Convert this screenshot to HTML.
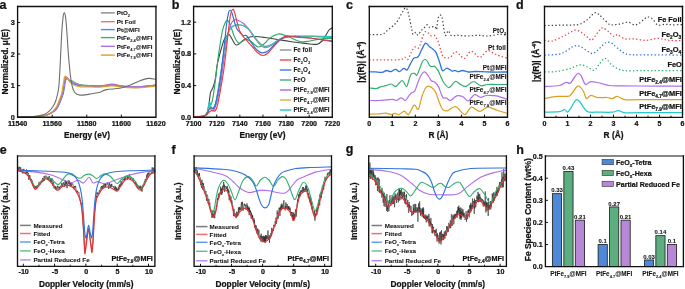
<!DOCTYPE html><html><head><meta charset="utf-8"><style>html,body{margin:0;padding:0;background:#fff;overflow:hidden}svg{display:block;will-change:transform}text{font-family:"Liberation Sans",sans-serif;font-weight:bold;stroke:#111;stroke-width:0.22px;paint-order:stroke}text.sm{stroke-width:0.06px}</style></head><body><svg width="685" height="289" viewBox="0 0 685 289" font-family="Liberation Sans, sans-serif" font-weight="bold">
<rect width="685" height="289" fill="#fff"/>
<text x="-0.40" y="9.30" font-size="12.5" text-anchor="start" fill="#111">a</text>
<text x="171.80" y="9.00" font-size="12.5" text-anchor="start" fill="#111">b</text>
<text x="345.90" y="9.30" font-size="12.5" text-anchor="start" fill="#111">c</text>
<text x="516.00" y="9.00" font-size="12.5" text-anchor="start" fill="#111">d</text>
<text x="-0.30" y="153.60" font-size="12.5" text-anchor="start" fill="#111">e</text>
<text x="171.40" y="153.60" font-size="12.5" text-anchor="start" fill="#111">f</text>
<text x="345.80" y="152.90" font-size="12.5" text-anchor="start" fill="#111">g</text>
<text x="516.20" y="153.60" font-size="12.5" text-anchor="start" fill="#111">h</text>
<polyline points="17.60,116.90 18.10,116.89 18.60,116.88 19.10,116.88 19.60,116.87 20.10,116.87 20.60,116.86 21.10,116.85 21.60,116.85 22.10,116.84 22.60,116.84 23.10,116.83 23.60,116.83 24.10,116.82 24.60,116.82 25.10,116.81 25.60,116.80 26.10,116.80 26.60,116.79 27.10,116.78 27.60,116.78 28.10,116.77 28.60,116.76 29.10,116.75 29.60,116.75 30.10,116.74 30.60,116.73 31.10,116.72 31.60,116.71 32.10,116.70 32.60,116.69 33.10,116.68 33.60,116.66 34.10,116.65 34.60,116.64 35.10,116.62 35.60,116.61 36.10,116.59 36.60,116.57 37.10,116.55 37.60,116.52 38.09,116.49 38.59,116.46 39.09,116.43 39.59,116.39 40.09,116.35 40.59,116.30 41.08,116.25 41.58,116.19 42.08,116.12 42.57,116.05 43.06,115.96 43.55,115.86 44.04,115.74 44.52,115.62 45.00,115.49 45.49,115.35 45.96,115.21 46.44,115.06 46.91,114.89 47.38,114.71 47.84,114.52 48.30,114.32 48.75,114.10 49.19,113.87 49.63,113.63 50.07,113.38 50.50,113.13 50.93,112.88 51.36,112.62 51.79,112.37 52.21,112.11 52.63,111.84 53.05,111.55 53.45,111.25 53.83,110.94 54.20,110.60 54.56,110.25 54.89,109.88 55.22,109.50 55.53,109.11 55.83,108.71 56.12,108.30 56.40,107.89 56.67,107.47 56.93,107.04 57.18,106.61 57.43,106.18 57.67,105.74 57.90,105.29 58.12,104.85 58.33,104.39 58.54,103.94 58.74,103.48 58.93,103.02 59.12,102.55 59.30,102.09 59.49,101.62 59.67,101.16 59.84,100.69 60.02,100.22 60.20,99.76 60.38,99.29 60.56,98.82 60.75,98.36 60.93,97.89 61.11,97.43 61.29,96.96 61.46,96.49 61.64,96.02 61.80,95.55 61.96,95.08 62.12,94.60 62.26,94.12 62.40,93.64 62.53,93.16 62.65,92.67 62.76,92.19 62.86,91.70 62.95,91.21 63.04,90.71 63.12,90.22 63.20,89.73 63.28,89.23 63.35,88.74 63.43,88.24 63.50,87.75 63.58,87.26 63.66,86.76 63.74,86.27 63.82,85.78 63.91,85.28 63.99,84.79 64.07,84.30 64.15,83.80 64.23,83.31 64.31,82.82 64.39,82.32 64.47,81.83 64.55,81.33 64.62,80.84 64.69,80.35 64.76,79.85 64.82,79.35 64.90,78.86 65.01,78.37 65.17,77.90 65.39,77.47 65.72,77.15 66.11,77.03 66.52,77.11 66.92,77.38 67.26,77.74 67.57,78.13 67.86,78.54 68.15,78.95 68.44,79.35 68.76,79.73 69.12,80.08 69.50,80.41 69.89,80.71 70.29,81.01 70.70,81.30 71.11,81.58 71.52,81.87 71.92,82.16 72.33,82.46 72.74,82.74 73.16,83.02 73.58,83.28 74.02,83.53 74.46,83.75 74.92,83.96 75.38,84.14 75.85,84.31 76.33,84.47 76.80,84.62 77.28,84.76 77.77,84.89 78.25,85.00 78.74,85.11 79.23,85.21 79.72,85.30 80.22,85.38 80.71,85.45 81.21,85.51 81.71,85.56 82.20,85.60 82.70,85.64 83.20,85.67 83.70,85.69 84.20,85.71 84.70,85.72 85.20,85.73 85.70,85.74 86.20,85.75 86.70,85.76 87.20,85.76 87.70,85.77 88.20,85.77 88.70,85.78 89.20,85.79 89.70,85.80 90.20,85.81 90.70,85.82 91.20,85.83 91.70,85.84 92.20,85.85 92.70,85.87 93.20,85.88 93.70,85.89 94.20,85.90 94.70,85.91 95.20,85.92 95.70,85.93 96.20,85.94 96.70,85.95 97.20,85.95 97.70,85.95 98.20,85.95 98.70,85.94 99.20,85.93 99.70,85.91 100.20,85.88 100.69,85.85 101.19,85.80 101.69,85.75 102.18,85.68 102.68,85.60 103.17,85.51 103.66,85.42 104.15,85.32 104.64,85.23 105.13,85.14 105.63,85.06 106.12,84.98 106.62,84.90 107.11,84.81 107.60,84.72 108.09,84.62 108.58,84.52 109.07,84.43 109.56,84.34 110.06,84.26 110.55,84.20 111.05,84.15 111.55,84.11 112.05,84.09 112.55,84.09 113.05,84.11 113.54,84.15 114.04,84.21 114.53,84.29 115.02,84.38 115.51,84.49 116.00,84.60 116.48,84.73 116.97,84.85 117.45,84.98 117.93,85.11 118.42,85.23 118.90,85.35 119.39,85.47 119.88,85.58 120.37,85.68 120.86,85.77 121.35,85.86 121.84,85.93 122.34,86.00 122.84,86.06 123.33,86.11 123.83,86.17 124.33,86.21 124.83,86.26 125.32,86.30 125.82,86.35 126.32,86.38 126.82,86.42 127.32,86.46 127.82,86.49 128.32,86.52 128.82,86.56 129.31,86.58 129.81,86.61 130.31,86.64 130.81,86.66 131.31,86.68 131.81,86.70 132.31,86.72 132.81,86.74 133.31,86.76 133.81,86.77 134.31,86.78 134.81,86.79 135.31,86.80 135.81,86.80 136.31,86.80 136.81,86.79 137.31,86.79 137.81,86.77 138.31,86.76 138.81,86.74 139.31,86.71 139.81,86.69 140.31,86.66 140.81,86.62 141.30,86.59 141.80,86.55 142.30,86.51 142.80,86.47 143.30,86.43 143.80,86.39 144.29,86.34 144.79,86.30 145.29,86.26 145.79,86.22 146.29,86.18 146.79,86.13 147.28,86.09 147.78,86.04 148.28,85.99 148.78,85.94 149.27,85.89 149.77,85.84 150.27,85.79 150.77,85.73 151.26,85.68 151.76,85.62 152.26,85.57 152.75,85.51 153.25,85.45 153.75,85.40 154.24,85.34 154.74,85.28 155.24,85.23" fill="none" stroke="#f06060" stroke-width="1.15" stroke-linejoin="round" stroke-linecap="round"/>
<polyline points="17.60,116.90 18.10,116.89 18.60,116.88 19.10,116.88 19.60,116.87 20.10,116.87 20.60,116.86 21.10,116.85 21.60,116.85 22.10,116.84 22.60,116.84 23.10,116.83 23.60,116.83 24.10,116.82 24.60,116.82 25.10,116.81 25.60,116.80 26.10,116.80 26.60,116.79 27.10,116.78 27.60,116.78 28.10,116.77 28.60,116.76 29.10,116.75 29.60,116.75 30.10,116.74 30.60,116.73 31.10,116.72 31.60,116.71 32.10,116.70 32.60,116.69 33.10,116.68 33.60,116.66 34.10,116.65 34.60,116.64 35.10,116.62 35.60,116.61 36.10,116.59 36.60,116.57 37.10,116.55 37.60,116.52 38.09,116.49 38.59,116.46 39.09,116.43 39.59,116.39 40.09,116.35 40.59,116.30 41.08,116.25 41.58,116.19 42.08,116.12 42.57,116.04 43.06,115.96 43.55,115.85 44.04,115.74 44.52,115.62 45.00,115.48 45.49,115.35 45.96,115.21 46.44,115.06 46.92,114.90 47.38,114.72 47.85,114.53 48.30,114.33 48.76,114.12 49.20,113.90 49.65,113.67 50.09,113.43 50.52,113.19 50.96,112.94 51.39,112.69 51.83,112.44 52.26,112.19 52.69,111.93 53.11,111.66 53.52,111.38 53.92,111.08 54.30,110.76 54.67,110.42 55.02,110.07 55.36,109.70 55.68,109.31 55.98,108.92 56.28,108.52 56.56,108.11 56.84,107.69 57.10,107.26 57.36,106.83 57.61,106.40 57.85,105.96 58.08,105.52 58.31,105.08 58.53,104.63 58.74,104.17 58.94,103.71 59.13,103.25 59.32,102.79 59.51,102.33 59.69,101.86 59.87,101.40 60.05,100.93 60.23,100.46 60.41,100.00 60.59,99.53 60.77,99.06 60.95,98.60 61.13,98.13 61.32,97.67 61.50,97.20 61.67,96.73 61.85,96.26 62.02,95.79 62.18,95.32 62.34,94.85 62.49,94.37 62.63,93.89 62.77,93.41 62.89,92.92 63.00,92.44 63.11,91.95 63.20,91.46 63.29,90.97 63.38,90.47 63.46,89.98 63.54,89.49 63.61,88.99 63.69,88.50 63.76,88.00 63.84,87.51 63.92,87.01 64.00,86.52 64.08,86.03 64.16,85.53 64.24,85.04 64.32,84.55 64.40,84.05 64.47,83.56 64.55,83.07 64.63,82.57 64.71,82.08 64.80,81.59 64.89,81.09 64.99,80.60 65.10,80.12 65.23,79.63 65.38,79.16 65.55,78.69 65.76,78.24 66.02,77.83 66.37,77.58 66.77,77.54 67.18,77.71 67.56,78.02 67.89,78.39 68.18,78.80 68.45,79.22 68.72,79.63 69.05,80.00 69.44,80.27 69.89,80.42 70.38,80.49 70.87,80.53 71.36,80.62 71.81,80.79 72.25,81.03 72.67,81.30 73.09,81.57 73.52,81.81 73.96,82.05 74.41,82.28 74.85,82.51 75.30,82.73 75.75,82.95 76.21,83.16 76.66,83.36 77.12,83.55 77.59,83.75 78.05,83.94 78.51,84.12 78.98,84.29 79.46,84.44 79.94,84.56 80.43,84.67 80.92,84.76 81.41,84.84 81.91,84.91 82.41,84.97 82.90,85.03 83.40,85.08 83.90,85.13 84.40,85.18 84.89,85.22 85.39,85.26 85.89,85.30 86.39,85.34 86.89,85.37 87.39,85.41 87.88,85.45 88.38,85.48 88.88,85.52 89.38,85.55 89.88,85.59 90.38,85.63 90.88,85.67 91.38,85.70 91.87,85.74 92.37,85.78 92.87,85.82 93.37,85.86 93.87,85.89 94.37,85.93 94.87,85.97 95.36,86.00 95.86,86.03 96.36,86.06 96.86,86.09 97.36,86.12 97.86,86.14 98.36,86.16 98.86,86.18 99.36,86.19 99.86,86.20 100.36,86.19 100.86,86.18 101.36,86.16 101.86,86.12 102.35,86.07 102.85,86.01 103.35,85.95 103.84,85.88 104.34,85.81 104.83,85.74 105.33,85.68 105.82,85.62 106.32,85.57 106.82,85.51 107.31,85.45 107.81,85.38 108.31,85.32 108.80,85.25 109.30,85.19 109.79,85.13 110.29,85.09 110.79,85.05 111.29,85.02 111.79,85.00 112.29,84.99 112.79,85.00 113.29,85.02 113.79,85.05 114.28,85.10 114.78,85.16 115.28,85.23 115.77,85.30 116.26,85.38 116.76,85.47 117.25,85.56 117.74,85.64 118.23,85.73 118.72,85.82 119.22,85.90 119.71,85.98 120.21,86.05 120.70,86.12 121.20,86.18 121.69,86.24 122.19,86.29 122.69,86.33 123.19,86.38 123.69,86.42 124.18,86.46 124.68,86.50 125.18,86.53 125.68,86.57 126.18,86.61 126.68,86.64 127.18,86.67 127.68,86.71 128.17,86.74 128.67,86.77 129.17,86.79 129.67,86.82 130.17,86.85 130.67,86.87 131.17,86.89 131.67,86.91 132.17,86.93 132.67,86.95 133.17,86.96 133.67,86.98 134.17,86.99 134.67,86.99 135.17,87.00 135.67,87.00 136.17,86.99 136.67,86.99 137.17,86.97 137.67,86.96 138.17,86.94 138.67,86.91 139.17,86.89 139.67,86.86 140.16,86.82 140.66,86.79 141.16,86.75 141.66,86.70 142.16,86.66 142.66,86.62 143.15,86.57 143.65,86.52 144.15,86.47 144.65,86.43 145.14,86.38 145.64,86.33 146.14,86.29 146.64,86.24 147.14,86.19 147.63,86.14 148.13,86.09 148.63,86.03 149.12,85.98 149.62,85.92 150.12,85.86 150.61,85.80 151.11,85.74 151.61,85.68 152.10,85.62 152.60,85.56 153.10,85.50 153.59,85.44 154.09,85.37 154.58,85.31 155.08,85.25" fill="none" stroke="#40b070" stroke-width="1.15" stroke-linejoin="round" stroke-linecap="round"/>
<polyline points="17.60,116.90 18.10,116.89 18.60,116.88 19.10,116.88 19.60,116.87 20.10,116.87 20.60,116.86 21.10,116.85 21.60,116.85 22.10,116.84 22.60,116.84 23.10,116.83 23.60,116.83 24.10,116.82 24.60,116.82 25.10,116.81 25.60,116.80 26.10,116.80 26.60,116.79 27.10,116.78 27.60,116.78 28.10,116.77 28.60,116.76 29.10,116.75 29.60,116.75 30.10,116.74 30.60,116.73 31.10,116.72 31.60,116.71 32.10,116.70 32.60,116.69 33.10,116.68 33.60,116.66 34.10,116.65 34.60,116.64 35.10,116.62 35.60,116.61 36.10,116.59 36.60,116.57 37.10,116.55 37.60,116.52 38.09,116.49 38.59,116.46 39.09,116.43 39.59,116.39 40.09,116.35 40.59,116.30 41.08,116.25 41.58,116.19 42.08,116.12 42.57,116.04 43.06,115.95 43.55,115.85 44.04,115.74 44.52,115.61 45.00,115.48 45.49,115.35 45.97,115.21 46.44,115.06 46.92,114.90 47.39,114.74 47.85,114.55 48.32,114.36 48.77,114.16 49.23,113.95 49.67,113.73 50.12,113.50 50.56,113.27 51.00,113.03 51.44,112.79 51.88,112.56 52.32,112.32 52.76,112.07 53.19,111.83 53.62,111.57 54.04,111.30 54.45,111.01 54.84,110.70 55.21,110.36 55.57,110.02 55.91,109.65 56.23,109.27 56.54,108.87 56.83,108.47 57.11,108.06 57.38,107.64 57.64,107.21 57.90,106.78 58.14,106.34 58.38,105.90 58.61,105.46 58.84,105.01 59.06,104.56 59.26,104.11 59.46,103.65 59.66,103.19 59.85,102.73 60.03,102.26 60.22,101.80 60.40,101.33 60.58,100.87 60.76,100.40 60.93,99.93 61.11,99.47 61.30,99.00 61.48,98.53 61.66,98.07 61.84,97.60 62.02,97.14 62.20,96.67 62.37,96.20 62.54,95.73 62.70,95.26 62.86,94.78 63.01,94.30 63.15,93.82 63.28,93.34 63.40,92.86 63.52,92.37 63.62,91.88 63.72,91.39 63.81,90.90 63.89,90.41 63.97,89.91 64.05,89.42 64.12,88.92 64.20,88.43 64.27,87.94 64.35,87.44 64.43,86.95 64.51,86.45 64.59,85.96 64.67,85.47 64.75,84.97 64.82,84.48 64.90,83.98 64.97,83.49 65.05,83.00 65.13,82.50 65.21,82.01 65.30,81.52 65.41,81.03 65.57,80.57 65.78,80.12 66.01,79.69 66.26,79.26 66.53,78.85 66.86,78.59 67.26,78.53 67.67,78.70 68.05,79.01 68.38,79.38 68.68,79.78 68.97,80.19 69.25,80.60 69.56,80.99 69.89,81.37 70.24,81.72 70.62,82.05 71.01,82.36 71.42,82.64 71.84,82.90 72.28,83.14 72.73,83.36 73.19,83.57 73.64,83.77 74.11,83.95 74.58,84.13 75.05,84.30 75.52,84.45 76.00,84.60 76.48,84.73 76.96,84.86 77.45,84.99 77.94,85.10 78.42,85.21 78.92,85.30 79.41,85.38 79.90,85.45 80.40,85.52 80.90,85.58 81.39,85.62 81.89,85.67 82.39,85.70 82.89,85.73 83.39,85.76 83.89,85.79 84.39,85.81 84.89,85.83 85.39,85.85 85.89,85.87 86.39,85.88 86.89,85.90 87.38,85.91 87.88,85.93 88.38,85.95 88.88,85.96 89.38,85.98 89.88,86.00 90.38,86.02 90.88,86.03 91.38,86.06 91.88,86.08 92.38,86.10 92.88,86.12 93.38,86.14 93.88,86.16 94.38,86.18 94.88,86.20 95.38,86.22 95.88,86.24 96.38,86.25 96.88,86.27 97.38,86.28 97.88,86.29 98.38,86.30 98.88,86.30 99.38,86.30 99.88,86.30 100.38,86.29 100.88,86.27 101.38,86.24 101.87,86.20 102.37,86.15 102.87,86.09 103.36,86.03 103.86,85.96 104.36,85.89 104.85,85.83 105.35,85.77 105.84,85.72 106.34,85.66 106.84,85.61 107.33,85.55 107.83,85.48 108.33,85.41 108.82,85.35 109.32,85.29 109.81,85.23 110.31,85.18 110.81,85.14 111.31,85.11 111.81,85.10 112.31,85.09 112.81,85.10 113.31,85.12 113.81,85.15 114.30,85.20 114.80,85.26 115.30,85.33 115.79,85.41 116.28,85.49 116.78,85.57 117.27,85.66 117.76,85.75 118.25,85.83 118.75,85.92 119.24,86.00 119.73,86.08 120.23,86.15 120.72,86.22 121.22,86.28 121.72,86.34 122.21,86.39 122.71,86.44 123.21,86.48 123.71,86.52 124.21,86.56 124.70,86.60 125.20,86.64 125.70,86.67 126.20,86.71 126.70,86.74 127.20,86.78 127.70,86.81 128.20,86.84 128.69,86.87 129.19,86.90 129.69,86.92 130.19,86.95 130.69,86.97 131.19,86.99 131.69,87.01 132.19,87.03 132.69,87.05 133.19,87.06 133.69,87.08 134.19,87.09 134.69,87.09 135.19,87.10 135.69,87.10 136.19,87.09 136.69,87.09 137.19,87.07 137.69,87.06 138.19,87.04 138.69,87.01 139.19,86.99 139.69,86.96 140.19,86.92 140.68,86.88 141.18,86.84 141.68,86.80 142.18,86.76 142.68,86.71 143.17,86.67 143.67,86.62 144.17,86.57 144.67,86.52 145.17,86.48 145.66,86.43 146.16,86.38 146.66,86.34 147.16,86.29 147.65,86.24 148.15,86.18 148.65,86.13 149.14,86.07 149.64,86.02 150.14,85.96 150.63,85.90 151.13,85.84 151.63,85.78 152.12,85.72 152.62,85.66 153.12,85.59 153.61,85.53 154.11,85.47 154.60,85.41 155.10,85.35" fill="none" stroke="#3d7fe0" stroke-width="1.15" stroke-linejoin="round" stroke-linecap="round"/>
<polyline points="17.60,116.90 18.10,116.89 18.60,116.88 19.10,116.88 19.60,116.87 20.10,116.87 20.60,116.86 21.10,116.85 21.60,116.85 22.10,116.84 22.60,116.84 23.10,116.83 23.60,116.83 24.10,116.82 24.60,116.82 25.10,116.81 25.60,116.80 26.10,116.80 26.60,116.79 27.10,116.78 27.60,116.78 28.10,116.77 28.60,116.76 29.10,116.75 29.60,116.75 30.10,116.74 30.60,116.73 31.10,116.72 31.60,116.71 32.10,116.70 32.60,116.69 33.10,116.68 33.60,116.66 34.10,116.65 34.60,116.64 35.10,116.62 35.60,116.61 36.10,116.59 36.60,116.57 37.10,116.55 37.60,116.52 38.09,116.49 38.59,116.46 39.09,116.43 39.59,116.39 40.09,116.35 40.59,116.30 41.08,116.25 41.58,116.19 42.08,116.12 42.57,116.04 43.06,115.95 43.55,115.85 44.04,115.74 44.52,115.62 45.00,115.48 45.49,115.35 45.97,115.21 46.44,115.06 46.92,114.90 47.39,114.73 47.85,114.54 48.31,114.34 48.76,114.14 49.21,113.92 49.66,113.69 50.10,113.46 50.54,113.22 50.98,112.98 51.41,112.73 51.85,112.49 52.28,112.24 52.72,111.99 53.14,111.73 53.56,111.46 53.97,111.17 54.36,110.86 54.74,110.54 55.10,110.19 55.44,109.83 55.77,109.45 56.08,109.06 56.38,108.66 56.67,108.25 56.95,107.83 57.22,107.41 57.47,106.98 57.72,106.55 57.97,106.11 58.20,105.67 58.43,105.23 58.65,104.78 58.86,104.33 59.07,103.87 59.27,103.41 59.46,102.95 59.65,102.49 59.83,102.02 60.01,101.56 60.19,101.09 60.37,100.62 60.55,100.16 60.73,99.69 60.91,99.22 61.09,98.76 61.27,98.29 61.45,97.83 61.63,97.36 61.81,96.89 61.99,96.42 62.16,95.95 62.33,95.48 62.49,95.01 62.64,94.53 62.78,94.06 62.92,93.57 63.05,93.09 63.16,92.60 63.27,92.12 63.37,91.63 63.46,91.13 63.55,90.64 63.63,90.15 63.71,89.66 63.79,89.16 63.86,88.67 63.94,88.17 64.01,87.68 64.09,87.18 64.17,86.69 64.25,86.20 64.33,85.70 64.41,85.21 64.49,84.72 64.57,84.22 64.64,83.73 64.72,83.23 64.80,82.74 64.88,82.25 64.96,81.75 65.05,81.26 65.16,80.77 65.30,80.30 65.47,79.83 65.66,79.37 65.87,78.92 66.11,78.48 66.43,78.16 66.81,78.03 67.22,78.11 67.62,78.39 67.96,78.74 68.27,79.13 68.56,79.54 68.84,79.96 69.14,80.36 69.47,80.73 69.83,81.06 70.23,81.37 70.64,81.65 71.07,81.91 71.51,82.14 71.95,82.37 72.40,82.58 72.86,82.79 73.32,82.99 73.78,83.18 74.24,83.37 74.71,83.55 75.18,83.72 75.65,83.88 76.13,84.04 76.60,84.20 77.08,84.35 77.55,84.51 78.03,84.65 78.51,84.79 79.00,84.91 79.48,85.02 79.97,85.12 80.47,85.20 80.96,85.28 81.46,85.34 81.95,85.39 82.45,85.44 82.95,85.48 83.45,85.52 83.95,85.55 84.45,85.58 84.95,85.60 85.44,85.63 85.94,85.65 86.44,85.67 86.94,85.69 87.44,85.71 87.94,85.73 88.44,85.74 88.94,85.76 89.44,85.78 89.94,85.80 90.44,85.82 90.94,85.83 91.44,85.85 91.94,85.87 92.44,85.89 92.94,85.90 93.44,85.92 93.94,85.93 94.44,85.95 94.94,85.96 95.44,85.97 95.94,85.99 96.44,85.99 96.94,86.00 97.44,86.01 97.94,86.01 98.44,86.01 98.94,86.01 99.44,86.01 99.94,86.00 100.44,85.98 100.94,85.96 101.44,85.93 101.93,85.89 102.43,85.84 102.93,85.78 103.42,85.72 103.92,85.65 104.42,85.58 104.91,85.52 105.41,85.46 105.91,85.41 106.40,85.36 106.90,85.30 107.40,85.24 107.89,85.17 108.39,85.11 108.88,85.04 109.38,84.98 109.88,84.93 110.37,84.88 110.87,84.84 111.37,84.81 111.87,84.79 112.37,84.79 112.87,84.80 113.37,84.82 113.87,84.86 114.36,84.91 114.86,84.97 115.36,85.04 115.85,85.12 116.34,85.20 116.84,85.28 117.33,85.37 117.82,85.46 118.31,85.55 118.81,85.63 119.30,85.71 119.79,85.79 120.29,85.86 120.78,85.93 121.28,85.99 121.78,86.05 122.27,86.10 122.77,86.14 123.27,86.18 123.77,86.22 124.27,86.26 124.76,86.30 125.26,86.34 125.76,86.38 126.26,86.41 126.76,86.45 127.26,86.48 127.76,86.51 128.26,86.54 128.76,86.57 129.25,86.60 129.75,86.63 130.25,86.65 130.75,86.67 131.25,86.70 131.75,86.72 132.25,86.73 132.75,86.75 133.25,86.77 133.75,86.78 134.25,86.79 134.75,86.79 135.25,86.80 135.75,86.80 136.25,86.79 136.75,86.78 137.25,86.77 137.75,86.76 138.25,86.73 138.75,86.71 139.25,86.68 139.75,86.65 140.25,86.62 140.74,86.58 141.24,86.54 141.74,86.50 142.24,86.45 142.74,86.41 143.24,86.36 143.73,86.31 144.23,86.27 144.73,86.22 145.23,86.17 145.72,86.13 146.22,86.08 146.72,86.03 147.22,85.98 147.71,85.93 148.21,85.88 148.71,85.82 149.21,85.77 149.70,85.71 150.20,85.65 150.70,85.59 151.19,85.53 151.69,85.47 152.18,85.41 152.68,85.35 153.18,85.29 153.67,85.23 154.17,85.16 154.67,85.10 155.16,85.04" fill="none" stroke="#b070e0" stroke-width="1.15" stroke-linejoin="round" stroke-linecap="round"/>
<polyline points="17.60,116.90 18.10,116.89 18.60,116.88 19.10,116.88 19.60,116.87 20.10,116.87 20.60,116.86 21.10,116.85 21.60,116.85 22.10,116.84 22.60,116.84 23.10,116.83 23.60,116.83 24.10,116.82 24.60,116.82 25.10,116.81 25.60,116.80 26.10,116.80 26.60,116.79 27.10,116.78 27.60,116.78 28.10,116.77 28.60,116.76 29.10,116.75 29.60,116.75 30.10,116.74 30.60,116.73 31.10,116.72 31.60,116.71 32.10,116.70 32.60,116.69 33.10,116.68 33.60,116.66 34.10,116.65 34.60,116.64 35.10,116.62 35.60,116.61 36.10,116.59 36.60,116.57 37.10,116.55 37.60,116.52 38.09,116.49 38.59,116.46 39.09,116.43 39.59,116.39 40.09,116.35 40.59,116.30 41.08,116.25 41.58,116.19 42.08,116.13 42.57,116.05 43.06,115.96 43.55,115.86 44.04,115.75 44.52,115.63 45.01,115.49 45.49,115.35 45.96,115.21 46.44,115.05 46.91,114.88 47.37,114.69 47.83,114.49 48.27,114.26 48.71,114.03 49.15,113.78 49.58,113.52 50.00,113.25 50.42,112.98 50.84,112.71 51.25,112.43 51.66,112.15 52.07,111.85 52.46,111.54 52.84,111.21 53.20,110.87 53.54,110.51 53.88,110.14 54.20,109.75 54.51,109.36 54.81,108.97 55.11,108.56 55.40,108.15 55.67,107.74 55.95,107.32 56.21,106.89 56.46,106.46 56.71,106.03 56.95,105.59 57.18,105.14 57.39,104.69 57.60,104.24 57.81,103.78 58.00,103.32 58.19,102.86 58.38,102.40 58.56,101.93 58.75,101.47 58.93,101.00 59.10,100.53 59.28,100.07 59.46,99.60 59.64,99.13 59.82,98.67 60.01,98.20 60.19,97.74 60.37,97.27 60.55,96.80 60.72,96.33 60.89,95.86 61.06,95.39 61.22,94.92 61.37,94.44 61.51,93.96 61.65,93.48 61.77,93.00 61.89,92.51 61.99,92.02 62.09,91.53 62.18,91.04 62.27,90.55 62.35,90.06 62.43,89.56 62.50,89.07 62.58,88.57 62.65,88.08 62.73,87.58 62.80,87.09 62.89,86.60 62.97,86.10 63.05,85.61 63.13,85.12 63.21,84.62 63.30,84.13 63.38,83.64 63.46,83.14 63.54,82.65 63.62,82.16 63.69,81.66 63.77,81.17 63.85,80.67 63.92,80.18 63.98,79.68 64.04,79.19 64.11,78.69 64.19,78.20 64.30,77.71 64.44,77.24 64.66,76.80 64.98,76.47 65.37,76.33 65.79,76.40 66.18,76.66 66.54,77.00 66.86,77.39 67.17,77.78 67.46,78.18 67.75,78.59 68.03,79.01 68.29,79.43 68.55,79.86 68.80,80.29 69.05,80.72 69.31,81.15 69.60,81.56 69.91,81.95 70.24,82.32 70.60,82.66 70.98,82.99 71.37,83.30 71.77,83.60 72.18,83.89 72.59,84.17 73.02,84.43 73.45,84.69 73.89,84.93 74.33,85.15 74.79,85.36 75.25,85.55 75.72,85.72 76.19,85.88 76.67,86.03 77.15,86.17 77.63,86.30 78.11,86.43 78.60,86.56 79.08,86.68 79.57,86.77 80.07,86.83 80.57,86.87 81.07,86.90 81.57,86.92 82.07,86.93 82.57,86.95 83.07,86.95 83.57,86.96 84.07,86.97 84.57,86.97 85.07,86.97 85.57,86.98 86.07,86.98 86.57,86.98 87.07,86.98 87.57,86.98 88.07,86.99 88.57,86.99 89.07,86.99 89.57,87.00 90.07,87.00 90.57,87.01 91.07,87.02 91.57,87.02 92.07,87.03 92.56,87.04 93.06,87.05 93.56,87.06 94.06,87.07 94.56,87.08 95.06,87.09 95.56,87.10 96.06,87.11 96.56,87.11 97.06,87.12 97.56,87.12 98.06,87.12 98.56,87.12 99.06,87.12 99.56,87.11 100.06,87.09 100.56,87.07 101.06,87.05 101.56,87.01 102.06,86.97 102.56,86.92 103.05,86.86 103.55,86.79 104.04,86.73 104.54,86.67 105.04,86.60 105.53,86.55 106.03,86.50 106.53,86.44 107.02,86.38 107.52,86.32 108.02,86.26 108.51,86.19 109.01,86.13 109.50,86.07 110.00,86.01 110.50,85.97 111.00,85.93 111.50,85.91 112.00,85.89 112.50,85.89 113.00,85.90 113.50,85.93 113.99,85.97 114.49,86.02 114.99,86.09 115.48,86.16 115.97,86.24 116.47,86.32 116.96,86.41 117.45,86.49 117.94,86.58 118.44,86.67 118.93,86.75 119.42,86.83 119.92,86.91 120.41,86.98 120.91,87.05 121.40,87.10 121.90,87.16 122.40,87.21 122.90,87.25 123.40,87.29 123.89,87.33 124.39,87.37 124.89,87.41 125.39,87.45 125.89,87.49 126.39,87.52 126.89,87.55 127.38,87.59 127.88,87.62 128.38,87.65 128.88,87.68 129.38,87.71 129.88,87.73 130.38,87.76 130.88,87.78 131.38,87.80 131.88,87.82 132.38,87.84 132.88,87.86 133.38,87.87 133.88,87.88 134.38,87.89 134.88,87.90 135.38,87.90 135.88,87.90 136.38,87.89 136.88,87.88 137.38,87.87 137.88,87.85 138.38,87.83 138.88,87.80 139.37,87.77 139.87,87.74 140.37,87.71 140.87,87.67 141.37,87.63 141.87,87.59 142.37,87.54 142.86,87.50 143.36,87.45 143.86,87.40 144.36,87.35 144.85,87.31 145.35,87.26 145.85,87.21 146.35,87.17 146.85,87.12 147.34,87.07 147.84,87.02 148.34,86.96 148.83,86.91 149.33,86.85 149.83,86.79 150.32,86.74 150.82,86.68 151.32,86.62 151.81,86.56 152.31,86.49 152.81,86.43 153.30,86.37 153.80,86.31 154.29,86.25 154.79,86.19 155.29,86.13" fill="none" stroke="#e0a020" stroke-width="1.15" stroke-linejoin="round" stroke-linecap="round"/>
<path d="M17.60,116.90 C20.50,116.82 30.60,116.78 35.00,116.40 C39.40,116.02 41.67,115.45 44.00,114.60 C46.33,113.75 47.50,112.65 49.00,111.30 C50.50,109.95 51.92,108.13 53.00,106.50 C54.08,104.87 54.78,103.42 55.50,101.50 C56.22,99.58 56.73,97.58 57.30,95.00 C57.87,92.42 58.40,91.50 58.90,86.00 C59.40,80.50 59.82,71.00 60.30,62.00 C60.78,53.00 61.32,39.67 61.80,32.00 C62.28,24.33 62.80,19.20 63.20,16.00 C63.60,12.80 63.85,12.88 64.20,12.80 C64.55,12.72 64.90,12.97 65.30,15.50 C65.70,18.03 66.12,21.92 66.60,28.00 C67.08,34.08 67.70,45.33 68.20,52.00 C68.70,58.67 69.13,63.33 69.60,68.00 C70.07,72.67 70.52,76.75 71.00,80.00 C71.48,83.25 71.92,85.50 72.50,87.50 C73.08,89.50 73.75,90.87 74.50,92.00 C75.25,93.13 76.08,93.78 77.00,94.30 C77.92,94.82 78.67,95.00 80.00,95.10 C81.33,95.20 83.03,95.13 85.00,94.90 C86.97,94.67 89.30,94.15 91.80,93.70 C94.30,93.25 97.53,92.88 100.00,92.20 C102.47,91.52 103.32,90.25 106.60,89.60 C109.88,88.95 115.98,88.97 119.70,88.30 C123.42,87.63 125.62,86.82 128.90,85.60 C132.18,84.38 136.12,82.20 139.40,81.00 C142.68,79.80 145.92,78.68 148.60,78.40 C151.28,78.12 154.35,79.15 155.50,79.30" fill="none" stroke="#6e6e6e" stroke-width="1.1" stroke-linejoin="round" stroke-linecap="round" opacity="1"/>
<path d="M17.60,6.50 V117.25 H155.95 V6.50" fill="none" stroke="#111" stroke-width="1.35" stroke-linejoin="miter" stroke-linecap="square"/>
<line x1="17.60" y1="6.50" x2="155.95" y2="6.50" stroke="#111" stroke-width="1.35" stroke-linecap="square"/>
<line x1="52.19" y1="117.25" x2="52.19" y2="114.65" stroke="#111" stroke-width="1"/>
<line x1="86.78" y1="117.25" x2="86.78" y2="114.65" stroke="#111" stroke-width="1"/>
<line x1="121.36" y1="117.25" x2="121.36" y2="114.65" stroke="#111" stroke-width="1"/>
<line x1="17.60" y1="85.65" x2="20.20" y2="85.65" stroke="#111" stroke-width="1"/>
<line x1="17.60" y1="54.05" x2="20.20" y2="54.05" stroke="#111" stroke-width="1"/>
<line x1="17.60" y1="22.45" x2="20.20" y2="22.45" stroke="#111" stroke-width="1"/>
<text x="17.60" y="125.80" font-size="7.1" text-anchor="middle" fill="#111">11540</text>
<text x="52.19" y="125.80" font-size="7.1" text-anchor="middle" fill="#111">11560</text>
<text x="86.78" y="125.80" font-size="7.1" text-anchor="middle" fill="#111">11580</text>
<text x="121.36" y="125.80" font-size="7.1" text-anchor="middle" fill="#111">11600</text>
<text x="155.95" y="125.80" font-size="7.1" text-anchor="middle" fill="#111">11620</text>
<text x="14.90" y="119.85" font-size="7.3" text-anchor="end" fill="#111">0</text>
<text x="14.90" y="88.25" font-size="7.3" text-anchor="end" fill="#111">1</text>
<text x="14.90" y="56.65" font-size="7.3" text-anchor="end" fill="#111">2</text>
<text x="14.90" y="25.05" font-size="7.3" text-anchor="end" fill="#111">3</text>
<text x="87.00" y="138.40" font-size="8.3" text-anchor="middle" fill="#111">Energy (eV)</text>
<text x="7.60" y="61.80" font-size="8.3" text-anchor="middle" fill="#111" transform="rotate(-90 7.6 61.8)">Normalized. μ(E)</text>
<line x1="100.9" y1="12.90" x2="114.8" y2="12.90" stroke="#8a8a8a" stroke-width="1.4"/>
<text class="sm" x="116.80" y="15.10" font-size="6.2" text-anchor="start" fill="#111">PtO<tspan font-size="0.64em" baseline-shift="-1.90">2</tspan></text>
<line x1="100.9" y1="21.70" x2="114.8" y2="21.70" stroke="#f07070" stroke-width="1.4"/>
<text class="sm" x="116.80" y="23.90" font-size="6.2" text-anchor="start" fill="#111">Pt Foil</text>
<line x1="100.9" y1="29.60" x2="114.8" y2="29.60" stroke="#4a8ae8" stroke-width="1.4"/>
<text class="sm" x="116.80" y="31.80" font-size="6.2" text-anchor="start" fill="#111">Pt@MFI</text>
<line x1="100.9" y1="37.60" x2="114.8" y2="37.60" stroke="#40b070" stroke-width="1.4"/>
<text class="sm" x="116.80" y="39.80" font-size="6.2" text-anchor="start" fill="#111">PtFe<tspan font-size="0.64em" baseline-shift="-1.90">2.4</tspan>@MFI</text>
<line x1="100.9" y1="46.30" x2="114.8" y2="46.30" stroke="#b070e0" stroke-width="1.4"/>
<text class="sm" x="116.80" y="48.50" font-size="6.2" text-anchor="start" fill="#111">PtFe<tspan font-size="0.64em" baseline-shift="-1.90">4.7</tspan>@MFI</text>
<line x1="100.9" y1="55.10" x2="114.8" y2="55.10" stroke="#e0a020" stroke-width="1.4"/>
<text class="sm" x="116.80" y="57.30" font-size="6.2" text-anchor="start" fill="#111">PtFe<tspan font-size="0.64em" baseline-shift="-1.90">7.9</tspan>@MFI</text>
<path d="M193.60,116.90 C194.67,116.85 198.27,116.75 200.00,116.60 C201.73,116.45 202.83,116.60 204.00,116.00 C205.17,115.40 206.17,115.00 207.00,113.00 C207.83,111.00 208.43,107.33 209.00,104.00 C209.57,100.67 209.93,95.33 210.40,93.00 C210.87,90.67 211.28,91.17 211.80,90.00 C212.32,88.83 212.88,88.00 213.50,86.00 C214.12,84.00 214.92,81.33 215.50,78.00 C216.08,74.67 216.42,69.50 217.00,66.00 C217.58,62.50 218.25,60.00 219.00,57.00 C219.75,54.00 220.67,50.83 221.50,48.00 C222.33,45.17 223.17,42.00 224.00,40.00 C224.83,38.00 225.65,36.92 226.50,36.00 C227.35,35.08 228.18,34.00 229.10,34.50 C230.02,35.00 231.10,37.50 232.00,39.00 C232.90,40.50 233.77,42.50 234.50,43.50 C235.23,44.50 235.65,44.92 236.40,45.00 C237.15,45.08 237.90,44.75 239.00,44.00 C240.10,43.25 241.50,41.58 243.00,40.50 C244.50,39.42 246.00,38.17 248.00,37.50 C250.00,36.83 252.17,36.50 255.00,36.50 C257.83,36.50 261.25,37.00 265.00,37.50 C268.75,38.00 273.33,38.83 277.50,39.50 C281.67,40.17 286.25,40.95 290.00,41.50 C293.75,42.05 296.67,42.38 300.00,42.80 C303.33,43.22 307.12,43.77 310.00,44.00 C312.88,44.23 315.30,44.70 317.30,44.20 C319.30,43.70 320.55,42.53 322.00,41.00 C323.45,39.47 324.83,36.83 326.00,35.00 C327.17,33.17 328.00,31.20 329.00,30.00 C330.00,28.80 331.50,28.17 332.00,27.80" fill="none" stroke="#444444" stroke-width="1.1" stroke-linejoin="round" stroke-linecap="round" opacity="1"/>
<path d="M193.60,116.90 C194.67,116.85 198.27,116.75 200.00,116.60 C201.73,116.45 202.83,116.60 204.00,116.00 C205.17,115.40 206.10,114.67 207.00,113.00 C207.90,111.33 208.73,107.42 209.40,106.00 C210.07,104.58 210.48,105.50 211.00,104.50 C211.52,103.50 211.87,103.25 212.50,100.00 C213.13,96.75 213.93,91.50 214.80,85.00 C215.67,78.50 216.83,67.67 217.70,61.00 C218.57,54.33 219.20,50.05 220.00,45.00 C220.80,39.95 221.67,34.37 222.50,30.70 C223.33,27.03 224.22,24.73 225.00,23.00 C225.78,21.27 226.45,20.30 227.20,20.30 C227.95,20.30 228.70,21.38 229.50,23.00 C230.30,24.62 231.08,27.50 232.00,30.00 C232.92,32.50 233.88,35.82 235.00,38.00 C236.12,40.18 237.53,42.52 238.70,43.10 C239.87,43.68 240.73,42.13 242.00,41.50 C243.27,40.87 244.80,39.30 246.30,39.30 C247.80,39.30 249.55,40.55 251.00,41.50 C252.45,42.45 253.75,44.08 255.00,45.00 C256.25,45.92 257.00,47.17 258.50,47.00 C260.00,46.83 262.08,45.50 264.00,44.00 C265.92,42.50 267.47,39.68 270.00,38.00 C272.53,36.32 276.20,34.15 279.20,33.90 C282.20,33.65 284.53,35.22 288.00,36.50 C291.47,37.78 296.33,40.85 300.00,41.60 C303.67,42.35 306.67,41.43 310.00,41.00 C313.33,40.57 316.33,39.47 320.00,39.00 C323.67,38.53 330.00,38.33 332.00,38.20" fill="none" stroke="#2fa860" stroke-width="1.15" stroke-linejoin="round" stroke-linecap="round" opacity="1"/>
<path d="M193.60,116.90 C194.67,116.85 198.27,116.75 200.00,116.60 C201.73,116.45 202.83,116.43 204.00,116.00 C205.17,115.57 206.10,115.33 207.00,114.00 C207.90,112.67 208.65,108.67 209.40,108.00 C210.15,107.33 210.82,109.58 211.50,110.00 C212.18,110.42 212.75,111.33 213.50,110.50 C214.25,109.67 215.17,107.58 216.00,105.00 C216.83,102.42 217.75,98.33 218.50,95.00 C219.25,91.67 219.75,89.83 220.50,85.00 C221.25,80.17 222.17,72.17 223.00,66.00 C223.83,59.83 224.67,53.33 225.50,48.00 C226.33,42.67 227.08,38.00 228.00,34.00 C228.92,30.00 230.08,26.25 231.00,24.00 C231.92,21.75 232.70,21.22 233.50,20.50 C234.30,19.78 234.88,19.65 235.80,19.70 C236.72,19.75 237.83,20.25 239.00,20.80 C240.17,21.35 241.55,22.05 242.80,23.00 C244.05,23.95 245.30,25.17 246.50,26.50 C247.70,27.83 248.83,29.33 250.00,31.00 C251.17,32.67 252.40,34.92 253.50,36.50 C254.60,38.08 255.52,39.17 256.60,40.50 C257.68,41.83 258.53,43.30 260.00,44.50 C261.47,45.70 263.40,47.62 265.40,47.70 C267.40,47.78 269.57,46.37 272.00,45.00 C274.43,43.63 277.00,40.87 280.00,39.50 C283.00,38.13 286.67,37.30 290.00,36.80 C293.33,36.30 296.67,36.55 300.00,36.50 C303.33,36.45 306.67,36.42 310.00,36.50 C313.33,36.58 316.33,36.83 320.00,37.00 C323.67,37.17 330.00,37.42 332.00,37.50" fill="none" stroke="#a868e0" stroke-width="1.15" stroke-linejoin="round" stroke-linecap="round" opacity="1"/>
<path d="M193.60,116.90 C194.67,116.85 198.27,116.75 200.00,116.60 C201.73,116.45 202.83,116.43 204.00,116.00 C205.17,115.57 206.10,115.67 207.00,114.00 C207.90,112.33 208.65,106.92 209.40,106.00 C210.15,105.08 210.82,108.08 211.50,108.50 C212.18,108.92 212.75,109.58 213.50,108.50 C214.25,107.42 215.17,105.42 216.00,102.00 C216.83,98.58 217.67,93.00 218.50,88.00 C219.33,83.00 220.17,77.50 221.00,72.00 C221.83,66.50 222.67,60.33 223.50,55.00 C224.33,49.67 225.08,44.00 226.00,40.00 C226.92,36.00 228.00,33.17 229.00,31.00 C230.00,28.83 230.92,27.95 232.00,27.00 C233.08,26.05 234.33,25.63 235.50,25.30 C236.67,24.97 237.75,24.92 239.00,25.00 C240.25,25.08 241.67,25.30 243.00,25.80 C244.33,26.30 245.75,27.05 247.00,28.00 C248.25,28.95 249.33,30.08 250.50,31.50 C251.67,32.92 252.83,34.92 254.00,36.50 C255.17,38.08 256.33,39.67 257.50,41.00 C258.67,42.33 259.68,43.57 261.00,44.50 C262.32,45.43 263.57,46.60 265.40,46.60 C267.23,46.60 269.57,45.77 272.00,44.50 C274.43,43.23 277.00,40.33 280.00,39.00 C283.00,37.67 286.67,36.95 290.00,36.50 C293.33,36.05 296.67,36.32 300.00,36.30 C303.33,36.28 306.67,36.37 310.00,36.40 C313.33,36.43 316.33,36.43 320.00,36.50 C323.67,36.57 330.00,36.75 332.00,36.80" fill="none" stroke="#dca030" stroke-width="1.15" stroke-linejoin="round" stroke-linecap="round" opacity="1"/>
<path d="M193.60,116.60 C194.67,116.55 198.27,116.45 200.00,116.30 C201.73,116.15 202.83,116.13 204.00,115.70 C205.17,115.27 206.10,116.00 207.00,113.70 C207.90,111.40 208.65,102.82 209.40,101.90 C210.15,100.98 210.82,107.15 211.50,108.20 C212.18,109.25 212.75,109.28 213.50,108.20 C214.25,107.12 215.17,105.12 216.00,101.70 C216.83,98.28 217.67,92.70 218.50,87.70 C219.33,82.70 220.17,77.20 221.00,71.70 C221.83,66.20 222.67,60.03 223.50,54.70 C224.33,49.37 225.08,43.70 226.00,39.70 C226.92,35.70 228.00,32.87 229.00,30.70 C230.00,28.53 230.92,27.65 232.00,26.70 C233.08,25.75 234.33,25.33 235.50,25.00 C236.67,24.67 237.75,24.62 239.00,24.70 C240.25,24.78 241.67,25.00 243.00,25.50 C244.33,26.00 245.75,26.75 247.00,27.70 C248.25,28.65 249.33,29.78 250.50,31.20 C251.67,32.62 252.83,34.62 254.00,36.20 C255.17,37.78 256.33,39.37 257.50,40.70 C258.67,42.03 259.68,43.27 261.00,44.20 C262.32,45.13 263.57,46.30 265.40,46.30 C267.23,46.30 269.57,45.47 272.00,44.20 C274.43,42.93 277.00,40.03 280.00,38.70 C283.00,37.37 286.67,36.65 290.00,36.20 C293.33,35.75 296.67,36.02 300.00,36.00 C303.33,35.98 306.67,36.07 310.00,36.10 C313.33,36.13 316.33,36.13 320.00,36.20 C323.67,36.27 330.00,36.45 332.00,36.50" fill="none" stroke="#22c4c8" stroke-width="1.15" stroke-linejoin="round" stroke-linecap="round" opacity="1"/>
<path d="M193.60,116.90 C194.67,116.85 198.27,116.75 200.00,116.60 C201.73,116.45 202.83,116.52 204.00,116.00 C205.17,115.48 206.08,114.67 207.00,113.50 C207.92,112.33 208.75,110.00 209.50,109.00 C210.25,108.00 210.83,107.58 211.50,107.50 C212.17,107.42 212.83,109.08 213.50,108.50 C214.17,107.92 214.83,106.25 215.50,104.00 C216.17,101.75 216.83,98.17 217.50,95.00 C218.17,91.83 218.83,89.17 219.50,85.00 C220.17,80.83 220.68,76.83 221.50,70.00 C222.32,63.17 223.57,51.50 224.40,44.00 C225.23,36.50 225.82,30.17 226.50,25.00 C227.18,19.83 227.90,15.47 228.50,13.00 C229.10,10.53 229.52,10.20 230.10,10.20 C230.68,10.20 231.27,11.03 232.00,13.00 C232.73,14.97 233.70,19.37 234.50,22.00 C235.30,24.63 235.88,27.05 236.80,28.80 C237.72,30.55 238.97,31.38 240.00,32.50 C241.03,33.62 241.95,35.00 243.00,35.50 C244.05,36.00 245.30,34.92 246.30,35.50 C247.30,36.08 247.88,37.42 249.00,39.00 C250.12,40.58 251.67,43.17 253.00,45.00 C254.33,46.83 255.50,48.68 257.00,50.00 C258.50,51.32 260.17,52.73 262.00,52.90 C263.83,53.07 265.67,52.65 268.00,51.00 C270.33,49.35 273.50,45.17 276.00,43.00 C278.50,40.83 280.73,39.08 283.00,38.00 C285.27,36.92 286.77,36.67 289.60,36.50 C292.43,36.33 296.60,36.75 300.00,37.00 C303.40,37.25 306.67,37.58 310.00,38.00 C313.33,38.42 316.33,39.03 320.00,39.50 C323.67,39.97 330.00,40.58 332.00,40.80" fill="none" stroke="#2f6fe0" stroke-width="1.15" stroke-linejoin="round" stroke-linecap="round" opacity="1"/>
<path d="M193.60,116.90 C194.67,116.85 198.27,116.75 200.00,116.60 C201.73,116.45 202.83,116.35 204.00,116.00 C205.17,115.65 206.00,115.25 207.00,114.50 C208.00,113.75 209.08,112.17 210.00,111.50 C210.92,110.83 211.67,110.58 212.50,110.50 C213.33,110.42 214.25,111.58 215.00,111.00 C215.75,110.42 216.33,109.17 217.00,107.00 C217.67,104.83 218.33,101.33 219.00,98.00 C219.67,94.67 220.25,91.33 221.00,87.00 C221.75,82.67 222.67,77.83 223.50,72.00 C224.33,66.17 225.17,59.00 226.00,52.00 C226.83,45.00 227.75,36.17 228.50,30.00 C229.25,23.83 229.82,18.43 230.50,15.00 C231.18,11.57 231.93,9.90 232.60,9.40 C233.27,8.90 233.85,10.23 234.50,12.00 C235.15,13.77 235.65,16.88 236.50,20.00 C237.35,23.12 238.35,27.78 239.60,30.70 C240.85,33.62 242.57,35.60 244.00,37.50 C245.43,39.40 246.70,40.43 248.20,42.10 C249.70,43.77 251.37,45.68 253.00,47.50 C254.63,49.32 256.37,51.67 258.00,53.00 C259.63,54.33 261.13,55.50 262.80,55.50 C264.47,55.50 265.97,54.75 268.00,53.00 C270.03,51.25 272.27,47.75 275.00,45.00 C277.73,42.25 281.57,37.92 284.40,36.50 C287.23,35.08 289.40,36.33 292.00,36.50 C294.60,36.67 297.00,37.25 300.00,37.50 C303.00,37.75 306.67,37.67 310.00,38.00 C313.33,38.33 316.33,38.90 320.00,39.50 C323.67,40.10 330.00,41.25 332.00,41.60" fill="none" stroke="#f03a3a" stroke-width="1.15" stroke-linejoin="round" stroke-linecap="round" opacity="1"/>
<path d="M193.60,6.50 V117.25 H332.30 V6.50" fill="none" stroke="#111" stroke-width="1.35" stroke-linejoin="miter" stroke-linecap="square"/>
<line x1="193.60" y1="6.50" x2="332.30" y2="6.50" stroke="#111" stroke-width="1.35" stroke-linecap="square"/>
<line x1="216.72" y1="117.25" x2="216.72" y2="114.65" stroke="#111" stroke-width="1"/>
<line x1="239.83" y1="117.25" x2="239.83" y2="114.65" stroke="#111" stroke-width="1"/>
<line x1="262.95" y1="117.25" x2="262.95" y2="114.65" stroke="#111" stroke-width="1"/>
<line x1="286.07" y1="117.25" x2="286.07" y2="114.65" stroke="#111" stroke-width="1"/>
<line x1="309.18" y1="117.25" x2="309.18" y2="114.65" stroke="#111" stroke-width="1"/>
<line x1="193.60" y1="85.57" x2="196.20" y2="85.57" stroke="#111" stroke-width="1"/>
<line x1="193.60" y1="53.89" x2="196.20" y2="53.89" stroke="#111" stroke-width="1"/>
<line x1="193.60" y1="22.21" x2="196.20" y2="22.21" stroke="#111" stroke-width="1"/>
<text x="193.60" y="125.80" font-size="7.1" text-anchor="middle" fill="#111">7100</text>
<text x="216.72" y="125.80" font-size="7.1" text-anchor="middle" fill="#111">7120</text>
<text x="239.83" y="125.80" font-size="7.1" text-anchor="middle" fill="#111">7140</text>
<text x="262.95" y="125.80" font-size="7.1" text-anchor="middle" fill="#111">7160</text>
<text x="286.07" y="125.80" font-size="7.1" text-anchor="middle" fill="#111">7180</text>
<text x="309.18" y="125.80" font-size="7.1" text-anchor="middle" fill="#111">7200</text>
<text x="332.30" y="125.80" font-size="7.1" text-anchor="middle" fill="#111">7220</text>
<text x="191.20" y="119.85" font-size="7.3" text-anchor="end" fill="#111">0.0</text>
<text x="191.20" y="88.17" font-size="7.3" text-anchor="end" fill="#111">0.4</text>
<text x="191.20" y="56.49" font-size="7.3" text-anchor="end" fill="#111">0.8</text>
<text x="191.20" y="24.81" font-size="7.3" text-anchor="end" fill="#111">1.2</text>
<text x="262.50" y="138.40" font-size="8.3" text-anchor="middle" fill="#111">Energy (eV)</text>
<text x="180.30" y="61.80" font-size="8.3" text-anchor="middle" fill="#111" transform="rotate(-90 180.3 61.8)">Normalized. μ(E)</text>
<line x1="279.8" y1="50.00" x2="291.3" y2="50.00" stroke="#909090" stroke-width="1.4"/>
<text class="sm" x="293.40" y="52.20" font-size="6.3" text-anchor="start" fill="#111">Fe foil</text>
<line x1="279.8" y1="60.00" x2="291.3" y2="60.00" stroke="#f04848" stroke-width="1.4"/>
<text class="sm" x="293.40" y="62.20" font-size="6.3" text-anchor="start" fill="#111">Fe<tspan font-size="0.64em" baseline-shift="-1.90">2</tspan>O<tspan font-size="0.64em" baseline-shift="-1.90">3</tspan></text>
<line x1="279.8" y1="70.00" x2="291.3" y2="70.00" stroke="#3a7ae8" stroke-width="1.4"/>
<text class="sm" x="293.40" y="72.20" font-size="6.3" text-anchor="start" fill="#111">Fe<tspan font-size="0.64em" baseline-shift="-1.90">3</tspan>O<tspan font-size="0.64em" baseline-shift="-1.90">4</tspan></text>
<line x1="279.8" y1="80.00" x2="291.3" y2="80.00" stroke="#40b070" stroke-width="1.4"/>
<text class="sm" x="293.40" y="82.20" font-size="6.3" text-anchor="start" fill="#111">FeO</text>
<line x1="279.8" y1="90.00" x2="291.3" y2="90.00" stroke="#a868e0" stroke-width="1.4"/>
<text class="sm" x="293.40" y="92.20" font-size="6.3" text-anchor="start" fill="#111">PtFe<tspan font-size="0.64em" baseline-shift="-1.90">7.9</tspan>@MFI</text>
<line x1="279.8" y1="100.00" x2="291.3" y2="100.00" stroke="#dcb040" stroke-width="1.4"/>
<text class="sm" x="293.40" y="102.20" font-size="6.3" text-anchor="start" fill="#111">PtFe<tspan font-size="0.64em" baseline-shift="-1.90">4.7</tspan>@MFI</text>
<line x1="279.8" y1="110.00" x2="291.3" y2="110.00" stroke="#22c4c8" stroke-width="1.4"/>
<text class="sm" x="293.40" y="112.20" font-size="6.3" text-anchor="start" fill="#111">PtFe<tspan font-size="0.64em" baseline-shift="-1.90">2.4</tspan>@MFI</text>
<path d="M369.30,114.20 C370.63,114.17 374.58,114.18 377.30,114.00 C380.02,113.82 383.35,113.02 385.60,113.10 C387.85,113.18 389.23,114.45 390.80,114.50 C392.37,114.55 393.62,113.40 395.00,113.40 C396.38,113.40 397.55,114.88 399.10,114.50 C400.65,114.12 402.73,111.10 404.30,111.10 C405.87,111.10 406.85,115.50 408.50,114.50 C410.15,113.50 412.57,105.97 414.20,105.10 C415.83,104.23 417.00,110.77 418.30,109.30 C419.60,107.83 420.83,99.80 422.00,96.30 C423.17,92.80 424.27,90.00 425.30,88.30 C426.33,86.60 427.03,86.15 428.20,86.10 C429.37,86.05 431.08,87.02 432.30,88.00 C433.52,88.98 434.45,89.92 435.50,92.00 C436.55,94.08 437.68,98.08 438.60,100.50 C439.52,102.92 440.23,104.95 441.00,106.50 C441.77,108.05 442.13,109.08 443.20,109.80 C444.27,110.52 445.32,111.32 447.40,110.80 C449.48,110.28 452.85,106.08 455.70,106.70 C458.55,107.32 461.90,114.42 464.50,114.50 C467.10,114.58 468.78,107.72 471.30,107.20 C473.82,106.68 476.83,111.40 479.60,111.40 C482.37,111.40 484.97,107.38 487.90,107.20 C490.83,107.02 493.93,109.27 497.20,110.30 C500.47,111.33 505.78,112.88 507.50,113.40" fill="none" stroke="#dca020" stroke-width="1.2" stroke-linejoin="round" stroke-linecap="round" opacity="1"/>
<path d="M369.30,100.50 C370.98,100.50 376.50,100.60 379.40,100.50 C382.30,100.40 384.45,100.08 386.70,99.90 C388.95,99.72 391.27,99.30 392.90,99.40 C394.53,99.50 395.12,100.75 396.50,100.50 C397.88,100.25 399.73,97.90 401.20,97.90 C402.67,97.90 404.08,100.77 405.30,100.50 C406.52,100.23 407.45,97.60 408.50,96.30 C409.55,95.00 410.57,93.57 411.60,92.70 C412.63,91.83 413.67,92.75 414.70,91.10 C415.73,89.45 416.77,85.40 417.80,82.80 C418.83,80.20 419.77,77.32 420.90,75.50 C422.03,73.68 423.30,71.73 424.60,71.90 C425.90,72.07 427.58,75.03 428.70,76.50 C429.82,77.97 430.27,79.75 431.30,80.70 C432.33,81.65 433.68,81.17 434.90,82.20 C436.12,83.23 437.58,85.02 438.60,86.90 C439.62,88.78 440.23,91.65 441.00,93.50 C441.77,95.35 442.32,97.27 443.20,98.00 C444.08,98.73 445.08,97.48 446.30,97.90 C447.52,98.32 448.77,100.85 450.50,100.50 C452.23,100.15 454.62,96.42 456.70,95.80 C458.78,95.18 461.08,95.93 463.00,96.80 C464.92,97.67 466.30,101.35 468.20,101.00 C470.10,100.65 472.33,95.32 474.40,94.70 C476.47,94.08 478.53,97.17 480.60,97.30 C482.67,97.43 484.20,95.75 486.80,95.50 C489.40,95.25 492.75,95.15 496.20,95.80 C499.65,96.45 505.62,98.80 507.50,99.40" fill="none" stroke="#b070e8" stroke-width="1.2" stroke-linejoin="round" stroke-linecap="round" opacity="1"/>
<path d="M369.30,88.00 C370.47,88.08 374.45,88.68 376.30,88.50 C378.15,88.32 378.85,87.37 380.40,86.90 C381.95,86.43 383.78,86.18 385.60,85.70 C387.42,85.22 389.57,83.88 391.30,84.00 C393.03,84.12 394.18,86.98 396.00,86.40 C397.82,85.82 400.47,80.45 402.20,80.50 C403.93,80.55 405.27,86.83 406.40,86.70 C407.53,86.57 408.20,81.80 409.00,79.70 C409.80,77.60 410.25,75.15 411.20,74.10 C412.15,73.05 413.77,73.20 414.70,73.40 C415.63,73.60 415.93,76.17 416.80,75.30 C417.67,74.43 418.95,70.50 419.90,68.20 C420.85,65.90 421.63,62.95 422.50,61.50 C423.37,60.05 424.32,59.58 425.10,59.50 C425.88,59.42 426.40,59.95 427.20,61.00 C428.00,62.05 429.02,64.88 429.90,65.80 C430.78,66.72 431.68,66.40 432.50,66.50 C433.32,66.60 433.85,65.72 434.80,66.40 C435.75,67.08 437.25,69.00 438.20,70.60 C439.15,72.20 439.53,73.93 440.50,76.00 C441.47,78.07 442.57,81.07 444.00,83.00 C445.43,84.93 447.23,87.85 449.10,87.60 C450.97,87.35 453.30,82.02 455.20,81.50 C457.10,80.98 458.70,83.70 460.50,84.50 C462.30,85.30 463.87,86.80 466.00,86.30 C468.13,85.80 470.87,81.60 473.30,81.50 C475.73,81.40 478.18,85.20 480.60,85.70 C483.02,86.20 485.07,84.70 487.80,84.50 C490.53,84.30 493.72,84.50 497.00,84.50 C500.28,84.50 505.75,84.50 507.50,84.50" fill="none" stroke="#30b070" stroke-width="1.2" stroke-linejoin="round" stroke-linecap="round" opacity="1"/>
<path d="M369.30,71.90 C370.28,71.90 373.08,71.82 375.20,71.90 C377.32,71.98 380.08,72.63 382.00,72.40 C383.92,72.17 385.23,70.63 386.70,70.50 C388.17,70.37 389.33,71.80 390.80,71.60 C392.27,71.40 394.03,69.30 395.50,69.30 C396.97,69.30 398.22,71.75 399.60,71.60 C400.98,71.45 402.55,68.68 403.80,68.40 C405.05,68.12 405.98,70.68 407.10,69.90 C408.22,69.12 409.35,65.67 410.50,63.70 C411.65,61.73 412.73,59.25 414.00,58.10 C415.27,56.95 416.83,58.18 418.10,56.80 C419.37,55.42 420.37,52.07 421.60,49.80 C422.83,47.53 424.23,43.77 425.50,43.20 C426.77,42.63 428.00,45.42 429.20,46.40 C430.40,47.38 431.55,48.07 432.70,49.10 C433.85,50.13 434.95,50.40 436.10,52.60 C437.25,54.80 438.52,59.27 439.60,62.30 C440.68,65.33 441.38,69.83 442.60,70.80 C443.82,71.77 445.30,68.05 446.90,68.10 C448.50,68.15 450.85,70.73 452.20,71.10 C453.55,71.47 453.98,70.20 455.00,70.30 C456.02,70.40 457.02,71.67 458.30,71.70 C459.58,71.73 461.05,70.45 462.70,70.50 C464.35,70.55 466.15,71.83 468.20,72.00 C470.25,72.17 471.37,71.50 475.00,71.50 C478.63,71.50 484.58,71.92 490.00,72.00 C495.42,72.08 504.58,72.00 507.50,72.00" fill="none" stroke="#2f74e0" stroke-width="1.3" stroke-linejoin="round" stroke-linecap="round" opacity="1"/>
<path d="M369.30,59.80 C371.92,59.80 380.30,59.80 385.00,59.80 C389.70,59.80 394.50,59.97 397.50,59.80 C400.50,59.63 401.75,59.22 403.00,58.80 C404.25,58.38 404.20,57.18 405.00,57.30 C405.80,57.42 406.77,60.28 407.80,59.50 C408.83,58.72 410.05,54.67 411.20,52.60 C412.35,50.53 413.43,47.90 414.70,47.10 C415.97,46.30 417.58,49.23 418.80,47.80 C420.02,46.37 421.23,40.62 422.00,38.50 C422.77,36.38 422.82,36.25 423.40,35.10 C423.98,33.95 424.70,31.95 425.50,31.60 C426.30,31.25 427.28,32.30 428.20,33.00 C429.12,33.70 429.95,35.40 431.00,35.80 C432.05,36.20 433.57,34.95 434.50,35.40 C435.43,35.85 435.92,37.28 436.60,38.50 C437.28,39.72 437.87,40.58 438.60,42.70 C439.33,44.82 440.25,48.85 441.00,51.20 C441.75,53.55 442.27,55.73 443.10,56.80 C443.93,57.87 444.80,57.50 446.00,57.60 C447.20,57.70 448.78,58.38 450.30,57.40 C451.82,56.42 453.48,52.10 455.10,51.70 C456.72,51.30 458.42,53.90 460.00,55.00 C461.58,56.10 462.72,58.92 464.60,58.30 C466.48,57.68 468.77,51.45 471.30,51.30 C473.83,51.15 477.12,57.50 479.80,57.40 C482.48,57.30 485.02,51.33 487.40,50.70 C489.78,50.07 492.00,52.72 494.10,53.60 C496.20,54.48 497.77,55.22 500.00,56.00 C502.23,56.78 506.25,57.92 507.50,58.30" fill="none" stroke="#f04040" stroke-width="1.25" stroke-dasharray="1.4 2.2" stroke-linejoin="round" stroke-linecap="butt" opacity="1"/>
<path d="M369.30,34.50 C371.32,34.50 378.62,35.00 381.40,34.50 C384.18,34.00 384.40,32.67 386.00,31.50 C387.60,30.33 389.50,28.75 391.00,27.50 C392.50,26.25 393.87,25.17 395.00,24.00 C396.13,22.83 396.77,22.12 397.80,20.50 C398.83,18.88 400.28,15.92 401.20,14.30 C402.12,12.68 402.60,11.90 403.30,10.80 C404.00,9.70 404.70,7.80 405.40,7.70 C406.10,7.60 406.92,8.87 407.50,10.20 C408.08,11.53 408.45,13.87 408.90,15.70 C409.35,17.53 409.75,19.12 410.20,21.20 C410.65,23.28 411.13,26.00 411.60,28.20 C412.07,30.40 412.30,33.72 413.00,34.40 C413.70,35.08 414.98,32.18 415.80,32.30 C416.62,32.42 417.10,35.22 417.90,35.10 C418.70,34.98 419.80,32.63 420.60,31.60 C421.40,30.57 421.88,29.70 422.70,28.90 C423.52,28.10 424.70,27.50 425.50,26.80 C426.30,26.10 426.82,24.58 427.50,24.70 C428.18,24.82 428.78,27.15 429.60,27.50 C430.42,27.85 431.47,26.92 432.40,26.80 C433.33,26.68 434.50,26.35 435.20,26.80 C435.90,27.25 436.15,30.77 436.60,29.50 C437.05,28.23 437.33,21.62 437.90,19.20 C438.47,16.78 439.30,15.23 440.00,15.00 C440.70,14.77 441.52,15.95 442.10,17.80 C442.68,19.65 442.97,23.15 443.50,26.10 C444.03,29.05 444.48,34.73 445.30,35.50 C446.12,36.27 447.40,30.70 448.40,30.70 C449.40,30.70 449.70,34.72 451.30,35.50 C452.90,36.28 455.30,35.32 458.00,35.40 C460.70,35.48 464.17,36.02 467.50,36.00 C470.83,35.98 474.52,35.30 478.00,35.30 C481.48,35.30 484.77,36.18 488.40,36.00 C492.03,35.82 496.62,34.28 499.80,34.20 C502.98,34.12 506.22,35.28 507.50,35.50" fill="none" stroke="#444444" stroke-width="1.2" stroke-dasharray="1.4 2.2" stroke-linejoin="round" stroke-linecap="butt" opacity="1"/>
<path d="M369.30,6.50 V117.25 H507.50 V6.50" fill="none" stroke="#111" stroke-width="1.35" stroke-linejoin="miter" stroke-linecap="square"/>
<line x1="369.30" y1="6.50" x2="507.50" y2="6.50" stroke="#111" stroke-width="1.35" stroke-linecap="square"/>
<line x1="392.33" y1="117.25" x2="392.33" y2="114.65" stroke="#111" stroke-width="1"/>
<line x1="415.37" y1="117.25" x2="415.37" y2="114.65" stroke="#111" stroke-width="1"/>
<line x1="438.40" y1="117.25" x2="438.40" y2="114.65" stroke="#111" stroke-width="1"/>
<line x1="461.43" y1="117.25" x2="461.43" y2="114.65" stroke="#111" stroke-width="1"/>
<line x1="484.47" y1="117.25" x2="484.47" y2="114.65" stroke="#111" stroke-width="1"/>
<text x="369.30" y="125.80" font-size="7.1" text-anchor="middle" fill="#111">0</text>
<text x="392.33" y="125.80" font-size="7.1" text-anchor="middle" fill="#111">1</text>
<text x="415.37" y="125.80" font-size="7.1" text-anchor="middle" fill="#111">2</text>
<text x="438.40" y="125.80" font-size="7.1" text-anchor="middle" fill="#111">3</text>
<text x="461.43" y="125.80" font-size="7.1" text-anchor="middle" fill="#111">4</text>
<text x="484.47" y="125.80" font-size="7.1" text-anchor="middle" fill="#111">5</text>
<text x="507.50" y="125.80" font-size="7.1" text-anchor="middle" fill="#111">6</text>
<text x="438.40" y="138.40" font-size="8.3" text-anchor="middle" fill="#111">R (Å)</text>
<text x="363.90" y="62.10" font-size="8.6" text-anchor="middle" fill="#111" transform="rotate(-90 363.9 62.1)">|χ(R)| (Å<tspan font-size="0.66em" baseline-shift="3">-4</tspan>)</text>
<text class="sm" x="506.30" y="32.50" font-size="6.3" text-anchor="end" fill="#111">PtO<tspan font-size="0.64em" baseline-shift="-1.90">2</tspan></text>
<text class="sm" x="505.90" y="50.20" font-size="6.45" text-anchor="end" fill="#111">Pt foil</text>
<text class="sm" x="506.50" y="69.60" font-size="6.45" text-anchor="end" fill="#111">Pt@MFI</text>
<text class="sm" x="506.50" y="79.40" font-size="6.45" text-anchor="end" fill="#111">PtFe<tspan font-size="0.64em" baseline-shift="-1.90">2.4</tspan>@MFI</text>
<text class="sm" x="506.50" y="92.40" font-size="6.45" text-anchor="end" fill="#111">PtFe<tspan font-size="0.64em" baseline-shift="-1.90">4.7</tspan>@MFI</text>
<text class="sm" x="506.50" y="105.00" font-size="6.45" text-anchor="end" fill="#111">PtFe<tspan font-size="0.64em" baseline-shift="-1.90">7.9</tspan>@MFI</text>
<path d="M544.50,112.10 C546.97,112.03 555.93,112.13 559.30,111.70 C562.67,111.27 563.33,109.43 564.70,109.50 C566.07,109.57 566.40,112.47 567.50,112.10 C568.60,111.73 570.22,108.90 571.30,107.30 C572.38,105.70 573.10,103.77 574.00,102.50 C574.90,101.23 575.78,99.87 576.70,99.70 C577.62,99.53 578.58,100.58 579.50,101.50 C580.42,102.42 580.85,103.50 582.20,105.20 C583.55,106.90 584.88,110.55 587.60,111.70 C590.32,112.85 594.43,112.02 598.50,112.10 C602.57,112.18 608.67,112.45 612.00,112.20 C615.33,111.95 616.32,110.50 618.50,110.60 C620.68,110.70 621.52,112.48 625.10,112.80 C628.68,113.12 630.43,112.53 640.00,112.50 C649.57,112.47 675.42,112.58 682.50,112.60" fill="none" stroke="#22c8cc" stroke-width="1.25" stroke-linejoin="round" stroke-linecap="round" opacity="1"/>
<path d="M544.50,98.60 C546.60,98.23 553.18,96.77 557.10,96.40 C561.02,96.03 565.63,96.75 568.00,96.40 C570.37,96.05 570.13,95.53 571.30,94.30 C572.47,93.07 573.80,90.38 575.00,89.00 C576.20,87.62 577.12,85.67 578.50,86.00 C579.88,86.33 581.97,88.90 583.30,91.00 C584.63,93.10 585.23,97.88 586.50,98.60 C587.77,99.32 589.08,95.48 590.90,95.30 C592.72,95.12 594.68,97.13 597.40,97.50 C600.12,97.87 604.77,97.32 607.20,97.50 C609.63,97.68 610.28,98.77 612.00,98.60 C613.72,98.43 615.32,96.32 617.50,96.50 C619.68,96.68 621.35,99.17 625.10,99.70 C628.85,100.23 630.43,99.70 640.00,99.70 C649.57,99.70 675.42,99.70 682.50,99.70" fill="none" stroke="#dca020" stroke-width="1.25" stroke-linejoin="round" stroke-linecap="round" opacity="1"/>
<path d="M544.50,86.60 C546.97,86.42 555.75,86.22 559.30,85.50 C562.85,84.78 563.98,82.67 565.80,82.30 C567.62,81.93 568.83,84.02 570.20,83.30 C571.57,82.58 572.73,79.63 574.00,78.00 C575.27,76.37 576.62,73.88 577.80,73.50 C578.98,73.12 579.83,73.88 581.10,75.70 C582.37,77.52 583.77,83.42 585.40,84.40 C587.03,85.38 588.35,81.78 590.90,81.60 C593.45,81.42 597.62,82.65 600.70,83.30 C603.78,83.95 606.18,85.08 609.40,85.50 C612.62,85.92 614.90,85.72 620.00,85.80 C625.10,85.88 629.58,85.93 640.00,86.00 C650.42,86.07 675.42,86.17 682.50,86.20" fill="none" stroke="#b070e8" stroke-width="1.25" stroke-linejoin="round" stroke-linecap="round" opacity="1"/>
<path d="M544.50,72.00 C546.60,71.90 552.82,71.98 557.10,71.40 C561.38,70.82 567.05,69.40 570.20,68.50 C573.35,67.60 574.18,66.62 576.00,66.00 C577.82,65.38 579.17,64.63 581.10,64.80 C583.03,64.97 585.42,66.08 587.60,67.00 C589.78,67.92 592.20,70.85 594.20,70.30 C596.20,69.75 597.78,65.70 599.60,63.70 C601.42,61.70 603.10,58.12 605.10,58.30 C607.10,58.48 609.37,62.98 611.60,64.80 C613.83,66.62 616.25,68.22 618.50,69.20 C620.75,70.18 621.52,70.45 625.10,70.70 C628.68,70.95 634.18,70.72 640.00,70.70 C645.82,70.68 652.92,70.60 660.00,70.60 C667.08,70.60 678.75,70.68 682.50,70.70" fill="none" stroke="#30b070" stroke-width="1.25" stroke-dasharray="1.4 2.2" stroke-linejoin="round" stroke-linecap="butt" opacity="1"/>
<path d="M544.50,55.10 C546.95,54.93 555.48,54.83 559.20,54.10 C562.92,53.37 564.67,51.88 566.80,50.70 C568.93,49.52 570.42,47.85 572.00,47.00 C573.58,46.15 574.97,45.68 576.30,45.60 C577.63,45.52 578.72,45.97 580.00,46.50 C581.28,47.03 582.67,47.97 584.00,48.80 C585.33,49.63 586.58,50.70 588.00,51.50 C589.42,52.30 591.17,53.60 592.50,53.60 C593.83,53.60 594.88,52.30 596.00,51.50 C597.12,50.70 598.03,49.88 599.20,48.80 C600.37,47.72 601.73,46.12 603.00,45.00 C604.27,43.88 605.38,42.42 606.80,42.10 C608.22,41.78 610.30,42.62 611.50,43.10 C612.70,43.58 612.65,43.88 614.00,45.00 C615.35,46.12 617.93,48.47 619.60,49.80 C621.27,51.13 622.42,52.20 624.00,53.00 C625.58,53.80 626.43,54.30 629.10,54.60 C631.77,54.90 634.85,54.75 640.00,54.80 C645.15,54.85 652.92,54.85 660.00,54.90 C667.08,54.95 678.75,55.07 682.50,55.10" fill="none" stroke="#2f74e0" stroke-width="1.25" stroke-dasharray="1.4 2.2" stroke-linejoin="round" stroke-linecap="butt" opacity="1"/>
<path d="M544.50,40.20 C545.68,40.37 548.52,41.83 551.60,41.20 C554.68,40.57 559.93,37.85 563.00,36.40 C566.07,34.95 567.93,33.53 570.00,32.50 C572.07,31.47 573.73,30.37 575.40,30.20 C577.07,30.03 578.57,30.78 580.00,31.50 C581.43,32.22 582.67,33.50 584.00,34.50 C585.33,35.50 586.73,36.55 588.00,37.50 C589.27,38.45 590.22,40.70 591.60,40.20 C592.98,39.70 594.90,36.20 596.30,34.50 C597.70,32.80 598.88,31.10 600.00,30.00 C601.12,28.90 601.55,27.62 603.00,27.90 C604.45,28.18 606.87,30.28 608.70,31.70 C610.53,33.12 612.50,35.92 614.00,36.40 C615.50,36.88 615.97,34.20 617.70,34.60 C619.43,35.00 621.85,38.10 624.40,38.80 C626.95,39.50 629.35,38.55 633.00,38.80 C636.65,39.05 642.18,40.37 646.30,40.30 C650.42,40.23 653.90,38.40 657.70,38.40 C661.50,38.40 664.97,39.92 669.10,40.30 C673.23,40.68 680.27,40.63 682.50,40.70" fill="none" stroke="#f04040" stroke-width="1.25" stroke-dasharray="1.4 2.2" stroke-linejoin="round" stroke-linecap="butt" opacity="1"/>
<path d="M544.50,25.60 C547.08,25.53 555.33,25.30 560.00,25.20 C564.67,25.10 569.15,25.18 572.50,25.00 C575.85,24.82 577.55,25.05 580.10,24.10 C582.65,23.15 585.82,20.82 587.80,19.30 C589.78,17.78 590.73,16.10 592.00,15.00 C593.27,13.90 594.23,12.78 595.40,12.70 C596.57,12.62 597.73,13.55 599.00,14.50 C600.27,15.45 601.23,16.73 603.00,18.40 C604.77,20.07 607.77,23.47 609.60,24.50 C611.43,25.53 612.33,24.67 614.00,24.60 C615.67,24.53 617.23,24.50 619.60,24.10 C621.97,23.70 625.65,22.05 628.20,22.20 C630.75,22.35 632.83,25.00 634.90,25.00 C636.97,25.00 638.92,23.28 640.60,22.20 C642.28,21.12 643.73,19.37 645.00,18.50 C646.27,17.63 646.87,16.87 648.20,17.00 C649.53,17.13 651.42,17.97 653.00,19.30 C654.58,20.63 655.70,24.17 657.70,25.00 C659.70,25.83 662.62,24.33 665.00,24.30 C667.38,24.27 669.08,24.75 672.00,24.80 C674.92,24.85 680.75,24.63 682.50,24.60" fill="none" stroke="#444444" stroke-width="1.2" stroke-dasharray="1.4 2.2" stroke-linejoin="round" stroke-linecap="butt" opacity="1"/>
<path d="M544.50,6.50 V117.30 H682.50 V6.50" fill="none" stroke="#111" stroke-width="1.35" stroke-linejoin="miter" stroke-linecap="square"/>
<line x1="544.50" y1="6.50" x2="682.50" y2="6.50" stroke="#111" stroke-width="1.35" stroke-linecap="square"/>
<line x1="567.50" y1="117.30" x2="567.50" y2="114.70" stroke="#111" stroke-width="1"/>
<line x1="590.50" y1="117.30" x2="590.50" y2="114.70" stroke="#111" stroke-width="1"/>
<line x1="613.50" y1="117.30" x2="613.50" y2="114.70" stroke="#111" stroke-width="1"/>
<line x1="636.50" y1="117.30" x2="636.50" y2="114.70" stroke="#111" stroke-width="1"/>
<line x1="659.50" y1="117.30" x2="659.50" y2="114.70" stroke="#111" stroke-width="1"/>
<line x1="556.00" y1="117.30" x2="556.00" y2="115.70" stroke="#111" stroke-width="1"/>
<line x1="579.00" y1="117.30" x2="579.00" y2="115.70" stroke="#111" stroke-width="1"/>
<line x1="602.00" y1="117.30" x2="602.00" y2="115.70" stroke="#111" stroke-width="1"/>
<line x1="625.00" y1="117.30" x2="625.00" y2="115.70" stroke="#111" stroke-width="1"/>
<line x1="648.00" y1="117.30" x2="648.00" y2="115.70" stroke="#111" stroke-width="1"/>
<line x1="671.00" y1="117.30" x2="671.00" y2="115.70" stroke="#111" stroke-width="1"/>
<text x="544.50" y="125.80" font-size="7.1" text-anchor="middle" fill="#111">0</text>
<text x="567.50" y="125.80" font-size="7.1" text-anchor="middle" fill="#111">1</text>
<text x="590.50" y="125.80" font-size="7.1" text-anchor="middle" fill="#111">2</text>
<text x="613.50" y="125.80" font-size="7.1" text-anchor="middle" fill="#111">3</text>
<text x="636.50" y="125.80" font-size="7.1" text-anchor="middle" fill="#111">4</text>
<text x="659.50" y="125.80" font-size="7.1" text-anchor="middle" fill="#111">5</text>
<text x="682.50" y="125.80" font-size="7.1" text-anchor="middle" fill="#111">6</text>
<text x="613.50" y="138.40" font-size="8.3" text-anchor="middle" fill="#111">R (Å)</text>
<text x="539.40" y="61.40" font-size="8.6" text-anchor="middle" fill="#111" transform="rotate(-90 539.4 61.4)">|χ(R)| (Å<tspan font-size="0.66em" baseline-shift="3">-4</tspan>)</text>
<text x="681.50" y="21.60" font-size="7.4" text-anchor="end" fill="#111">Fe Foil</text>
<text x="681.00" y="36.90" font-size="7.4" text-anchor="end" fill="#111">Fe<tspan font-size="0.64em" baseline-shift="-1.90">2</tspan>O<tspan font-size="0.64em" baseline-shift="-1.90">3</tspan></text>
<text x="681.00" y="51.70" font-size="7.4" text-anchor="end" fill="#111">Fe<tspan font-size="0.64em" baseline-shift="-1.90">3</tspan>O<tspan font-size="0.64em" baseline-shift="-1.90">4</tspan></text>
<text x="681.80" y="67.00" font-size="7.4" text-anchor="end" fill="#111">FeO</text>
<text x="681.80" y="81.60" font-size="7.4" text-anchor="end" fill="#111">PtFe<tspan font-size="0.64em" baseline-shift="-1.90">2.4</tspan>@MFI</text>
<text x="681.80" y="96.00" font-size="7.4" text-anchor="end" fill="#111">PtFe<tspan font-size="0.64em" baseline-shift="-1.90">4.7</tspan>@MFI</text>
<text x="681.80" y="108.50" font-size="7.4" text-anchor="end" fill="#111">PtFe<tspan font-size="0.64em" baseline-shift="-1.90">7.9</tspan>@MFI</text>
<polyline points="18.10,166.52 18.40,168.87 18.70,169.84 19.00,167.83 19.30,166.79 19.60,168.66 19.90,169.53 20.20,170.50 20.50,167.36 20.80,167.36 21.10,170.27 21.40,170.05 21.70,171.65 22.00,170.99 22.30,169.59 22.60,169.47 22.90,173.57 23.20,169.70 23.50,169.13 23.80,168.77 24.10,170.65 24.40,170.86 24.70,170.33 25.00,170.89 25.30,171.53 25.60,172.31 25.90,173.08 26.20,172.05 26.50,169.49 26.80,173.26 27.10,170.60 27.40,172.68 27.70,171.24 28.00,173.71 28.30,173.07 28.60,174.96 28.90,179.81 29.20,175.68 29.50,177.53 29.80,175.12 30.10,177.20 30.40,179.17 30.70,178.73 31.00,179.96 31.30,180.14 31.60,179.16 31.90,181.99 32.20,180.76 32.50,185.25 32.80,182.68 33.10,185.09 33.40,184.85 33.70,186.83 34.00,185.22 34.30,187.93 34.60,186.71 34.90,188.88 35.20,188.09 35.50,187.42 35.80,186.03 36.10,188.02 36.40,187.36 36.70,188.71 37.00,185.54 37.30,186.47 37.60,186.01 37.90,185.29 38.20,184.77 38.50,184.32 38.80,182.83 39.10,181.87 39.40,182.38 39.70,183.43 40.00,184.41 40.30,183.33 40.60,183.08 40.90,182.33 41.20,181.84 41.50,180.74 41.80,181.18 42.10,182.20 42.40,178.89 42.70,178.01 43.00,181.38 43.30,178.65 43.60,179.36 43.90,178.94 44.20,175.87 44.50,180.65 44.80,179.55 45.10,177.17 45.40,177.88 45.70,176.96 46.00,175.54 46.30,176.65 46.60,177.41 46.90,178.55 47.20,178.11 47.50,177.37 47.80,179.37 48.10,176.62 48.40,179.02 48.70,179.72 49.00,178.02 49.30,176.20 49.60,177.73 49.90,179.62 50.20,180.33 50.50,182.06 50.80,178.79 51.10,180.50 51.40,181.72 51.70,180.94 52.00,178.24 52.30,183.11 52.60,185.67 52.90,184.31 53.20,182.11 53.50,183.31 53.80,184.69 54.10,188.36 54.40,186.22 54.70,185.98 55.00,188.45 55.30,186.57 55.60,189.67 55.90,186.45 56.20,187.03 56.50,188.94 56.80,190.11 57.10,189.14 57.40,188.69 57.70,185.70 58.00,187.18 58.30,187.20 58.60,187.14 58.90,188.50 59.20,186.97 59.50,188.28 59.80,187.01 60.10,186.13 60.40,186.46 60.70,186.59 61.00,186.89 61.30,184.73 61.60,184.81 61.90,182.98 62.20,186.92 62.50,186.53 62.80,184.11 63.10,183.57 63.40,182.39 63.70,184.24 64.00,184.19 64.30,186.85 64.60,184.05 64.90,182.53 65.20,180.12 65.50,185.45 65.80,183.69 66.10,181.12 66.40,183.59 66.70,181.06 67.00,188.17 67.30,184.86 67.60,184.11 67.90,183.08 68.20,180.37 68.50,183.24 68.80,181.31 69.10,184.40 69.40,180.66 69.70,182.49 70.00,185.57 70.30,186.29 70.60,182.47 70.90,182.12 71.20,185.65 71.50,185.77 71.80,183.37 72.10,183.97 72.40,184.16 72.70,183.68 73.00,184.61 73.30,187.55 73.60,187.01 73.90,189.19 74.20,186.48 74.50,186.72 74.80,185.88 75.10,187.46 75.40,186.20 75.70,185.99 76.00,189.92 76.30,191.46 76.60,191.16 76.90,192.41 77.20,191.49 77.50,190.75 77.80,192.51 78.10,192.51 78.40,192.13 78.70,192.00 79.00,193.01 79.30,195.85 79.60,196.89 79.90,196.92 80.20,200.60 80.50,199.99 80.80,201.88 81.10,204.30 81.40,203.24 81.70,203.77 82.00,210.12 82.30,211.01 82.60,217.08 82.90,219.58 83.20,224.88 83.50,229.23 83.80,230.09 84.10,240.12 84.40,245.38 84.70,249.80 85.00,251.09 85.30,251.25 85.60,248.87 85.90,246.50 86.20,240.68 86.50,240.16 86.80,235.40 87.10,236.29 87.40,235.08 87.70,231.20 88.00,230.96 88.30,229.79 88.60,230.41 88.90,228.35 89.20,229.60 89.50,231.54 89.80,237.32 90.10,238.90 90.40,239.77 90.70,242.64 91.00,244.57 91.30,247.29 91.60,249.26 91.90,250.09 92.20,247.58 92.50,245.35 92.80,244.33 93.10,238.22 93.40,232.97 93.70,227.30 94.00,222.28 94.30,217.68 94.60,212.10 94.90,209.76 95.20,206.67 95.50,202.50 95.80,200.05 96.10,197.74 96.40,196.00 96.70,197.46 97.00,192.03 97.30,194.36 97.60,193.40 97.90,192.94 98.20,193.47 98.50,194.41 98.80,192.41 99.10,191.59 99.40,190.41 99.70,190.58 100.00,191.53 100.30,189.22 100.60,187.70 100.90,187.08 101.20,186.87 101.50,186.07 101.80,189.17 102.10,187.77 102.40,186.61 102.70,188.69 103.00,185.46 103.30,187.21 103.60,187.08 103.90,183.62 104.20,183.45 104.50,184.21 104.80,186.66 105.10,187.11 105.40,183.49 105.70,186.61 106.00,184.55 106.30,184.49 106.60,184.23 106.90,184.52 107.20,182.41 107.50,183.55 107.80,183.22 108.10,185.64 108.40,187.90 108.70,188.82 109.00,184.55 109.30,182.67 109.60,184.58 109.90,183.93 110.20,188.13 110.50,186.28 110.80,184.61 111.10,187.09 111.40,186.70 111.70,183.84 112.00,185.55 112.30,186.14 112.60,186.68 112.90,187.01 113.20,186.52 113.50,187.42 113.80,186.48 114.10,186.23 114.40,189.83 114.70,188.44 115.00,188.80 115.30,186.20 115.60,188.44 115.90,190.03 116.20,187.25 116.50,190.71 116.80,188.68 117.10,189.77 117.40,188.91 117.70,189.20 118.00,190.29 118.30,187.67 118.60,189.98 118.90,186.19 119.20,185.44 119.50,187.19 119.80,184.14 120.10,184.58 120.40,185.86 120.70,185.80 121.00,181.19 121.30,183.98 121.60,185.50 121.90,184.12 122.20,181.69 122.50,180.76 122.80,180.76 123.10,179.14 123.40,179.97 123.70,179.67 124.00,179.33 124.30,180.81 124.60,178.47 124.90,176.40 125.20,179.58 125.50,176.31 125.80,176.90 126.10,177.10 126.40,176.59 126.70,175.49 127.00,176.42 127.30,179.73 127.60,175.76 127.90,176.39 128.20,178.15 128.50,177.65 128.80,177.72 129.10,177.93 129.40,174.05 129.70,175.71 130.00,177.22 130.30,177.88 130.60,179.15 130.90,178.16 131.20,177.36 131.50,177.94 131.80,177.80 132.10,178.66 132.40,179.49 132.70,178.31 133.00,177.93 133.30,178.20 133.60,181.32 133.90,182.02 134.20,182.09 134.50,182.42 134.80,182.93 135.10,182.31 135.40,183.78 135.70,181.90 136.00,183.56 136.30,183.24 136.60,185.67 136.90,184.25 137.20,185.32 137.50,186.46 137.80,188.20 138.10,185.60 138.40,185.76 138.70,188.55 139.00,186.15 139.30,188.56 139.60,187.30 139.90,188.04 140.20,185.65 140.50,189.12 140.80,187.26 141.10,186.48 141.40,190.35 141.70,188.08 142.00,191.60 142.30,186.81 142.60,185.28 142.90,185.42 143.20,187.01 143.50,184.21 143.80,184.37 144.10,183.95 144.40,181.41 144.70,182.27 145.00,180.75 145.30,179.06 145.60,181.35 145.90,180.38 146.20,178.88 146.50,176.83 146.80,174.64 147.10,177.50 147.40,176.08 147.70,173.29 148.00,175.03 148.30,172.49 148.60,174.14 148.90,173.98 149.20,173.92 149.50,173.40 149.80,173.04 150.10,170.92 150.40,171.72 150.70,171.30 151.00,171.45 151.30,171.93 151.60,172.20 151.90,173.42 152.20,167.33 152.50,171.29 152.80,170.26 153.10,173.53 153.40,171.47 153.70,167.66 154.00,170.36" fill="none" stroke="#2a2a2a" stroke-width="0.7" stroke-linejoin="round" opacity="1"/>
<path d="M17.50,170.60 C20.58,170.85 30.38,171.37 36.00,172.10 C41.62,172.83 46.75,173.73 51.20,175.00 C55.65,176.27 59.20,178.45 62.70,179.70 C66.20,180.95 69.65,182.43 72.20,182.50 C74.75,182.57 76.12,180.03 78.00,180.10 C79.88,180.17 81.67,183.37 83.50,182.90 C85.33,182.43 87.42,177.30 89.00,177.30 C90.58,177.30 91.60,182.18 93.00,182.90 C94.40,183.62 95.40,181.50 97.40,181.60 C99.40,181.70 101.83,183.82 105.00,183.50 C108.17,183.18 112.27,181.12 116.40,179.70 C120.53,178.28 125.35,176.27 129.80,175.00 C134.25,173.73 138.92,172.73 143.10,172.10 C147.28,171.47 152.93,171.35 154.90,171.20" fill="none" stroke="#b070e8" stroke-width="1.1" stroke-linejoin="round" stroke-linecap="round" opacity="1"/>
<path d="M17.50,170.60 C19.00,171.17 24.20,172.35 26.50,174.00 C28.80,175.65 29.78,177.97 31.30,180.50 C32.82,183.03 34.18,188.85 35.60,189.20 C37.02,189.55 38.15,184.57 39.80,182.60 C41.45,180.63 43.60,178.03 45.50,177.40 C47.40,176.77 49.13,177.62 51.20,178.80 C53.27,179.98 55.83,184.55 57.90,184.50 C59.97,184.45 61.87,180.27 63.60,178.50 C65.33,176.73 66.57,174.32 68.30,173.90 C70.03,173.48 72.03,175.27 74.00,176.00 C75.97,176.73 78.43,178.38 80.10,178.30 C81.77,178.22 82.62,176.20 84.00,175.50 C85.38,174.80 86.98,174.10 88.40,174.10 C89.82,174.10 91.15,174.77 92.50,175.50 C93.85,176.23 95.08,178.50 96.50,178.50 C97.92,178.50 99.55,176.27 101.00,175.50 C102.45,174.73 103.62,173.73 105.20,173.90 C106.78,174.07 109.03,175.40 110.50,176.50 C111.97,177.60 112.85,179.33 114.00,180.50 C115.15,181.67 116.05,183.78 117.40,183.50 C118.75,183.22 120.20,180.07 122.10,178.80 C124.00,177.53 126.57,175.43 128.80,175.90 C131.03,176.37 133.60,179.38 135.50,181.60 C137.40,183.82 138.62,189.20 140.20,189.20 C141.78,189.20 143.25,184.13 145.00,181.60 C146.75,179.07 149.05,175.73 150.70,174.00 C152.35,172.27 154.20,171.67 154.90,171.20" fill="none" stroke="#30b070" stroke-width="1.1" stroke-linejoin="round" stroke-linecap="round" opacity="1"/>
<path d="M17.50,170.30 C21.25,170.42 32.15,170.67 40.00,171.00 C47.85,171.33 59.23,171.80 64.60,172.30 C69.97,172.80 70.15,172.88 72.20,174.00 C74.25,175.12 75.58,176.72 76.90,179.00 C78.22,181.28 79.22,184.20 80.10,187.70 C80.98,191.20 81.62,195.12 82.20,200.00 C82.78,204.88 83.18,211.67 83.60,217.00 C84.02,222.33 84.35,228.53 84.70,232.00 C85.05,235.47 85.33,237.47 85.70,237.80 C86.07,238.13 86.42,236.07 86.90,234.00 C87.38,231.93 88.02,225.40 88.60,225.40 C89.18,225.40 89.90,231.93 90.40,234.00 C90.90,236.07 91.23,238.13 91.60,237.80 C91.97,237.47 92.25,235.47 92.60,232.00 C92.95,228.53 93.30,222.33 93.70,217.00 C94.10,211.67 94.47,204.88 95.00,200.00 C95.53,195.12 96.03,191.25 96.90,187.70 C97.77,184.15 98.73,180.98 100.20,178.70 C101.67,176.42 103.23,175.15 105.70,174.00 C108.17,172.85 110.95,172.33 115.00,171.80 C119.05,171.27 123.35,171.08 130.00,170.80 C136.65,170.52 150.75,170.22 154.90,170.10" fill="none" stroke="#2f74e0" stroke-width="1.15" stroke-linejoin="round" stroke-linecap="round" opacity="1"/>
<path d="M17.50,170.00 C19.00,170.67 24.20,172.00 26.50,174.00 C28.80,176.00 29.87,179.47 31.30,182.00 C32.73,184.53 33.68,188.78 35.10,189.20 C36.52,189.62 38.07,186.23 39.80,184.50 C41.53,182.77 43.60,179.12 45.50,178.80 C47.40,178.48 49.28,180.70 51.20,182.60 C53.12,184.50 55.08,189.57 57.00,190.20 C58.92,190.83 60.80,187.20 62.70,186.40 C64.60,185.60 66.50,185.05 68.40,185.40 C70.30,185.75 72.52,186.97 74.10,188.50 C75.68,190.03 76.80,192.25 77.90,194.60 C79.00,196.95 79.95,199.20 80.70,202.60 C81.45,206.00 81.88,209.60 82.40,215.00 C82.92,220.40 83.40,228.58 83.80,235.00 C84.20,241.42 84.40,251.83 84.80,253.50 C85.20,255.17 85.57,248.75 86.20,245.00 C86.83,241.25 87.83,231.00 88.60,231.00 C89.37,231.00 90.23,241.43 90.80,245.00 C91.37,248.57 91.60,253.57 92.00,252.40 C92.40,251.23 92.77,244.23 93.20,238.00 C93.63,231.77 94.08,221.33 94.60,215.00 C95.12,208.67 95.67,203.33 96.30,200.00 C96.93,196.67 97.27,196.95 98.40,195.00 C99.53,193.05 101.37,189.63 103.10,188.30 C104.83,186.97 107.05,186.85 108.80,187.00 C110.55,187.15 112.17,188.52 113.60,189.20 C115.03,189.88 116.13,191.73 117.40,191.10 C118.67,190.47 119.62,187.45 121.20,185.40 C122.78,183.35 125.00,179.58 126.90,178.80 C128.80,178.02 131.02,179.43 132.60,180.70 C134.18,181.97 135.13,184.82 136.40,186.40 C137.67,187.98 138.93,190.37 140.20,190.20 C141.47,190.03 142.57,187.78 144.00,185.40 C145.43,183.02 146.98,178.27 148.80,175.90 C150.62,173.53 153.88,171.98 154.90,171.20" fill="none" stroke="#e83030" stroke-width="1.15" stroke-linejoin="round" stroke-linecap="round" opacity="1"/>
<path d="M17.50,156.00 V266.30 H154.90 V156.00" fill="none" stroke="#111" stroke-width="1.35" stroke-linejoin="miter" stroke-linecap="square"/>
<line x1="17.50" y1="156.00" x2="154.90" y2="156.00" stroke="#111" stroke-width="1.05" stroke-linecap="square"/>
<line x1="23.30" y1="266.30" x2="23.30" y2="263.70" stroke="#111" stroke-width="1"/>
<text x="23.70" y="274.20" font-size="7.1" text-anchor="middle" fill="#111">-10</text>
<line x1="54.60" y1="266.30" x2="54.60" y2="263.70" stroke="#111" stroke-width="1"/>
<text x="55.00" y="274.20" font-size="7.1" text-anchor="middle" fill="#111">-5</text>
<line x1="85.90" y1="266.30" x2="85.90" y2="263.70" stroke="#111" stroke-width="1"/>
<text x="86.30" y="274.20" font-size="7.1" text-anchor="middle" fill="#111">0</text>
<line x1="117.20" y1="266.30" x2="117.20" y2="263.70" stroke="#111" stroke-width="1"/>
<text x="117.60" y="274.20" font-size="7.1" text-anchor="middle" fill="#111">5</text>
<line x1="148.50" y1="266.30" x2="148.50" y2="263.70" stroke="#111" stroke-width="1"/>
<text x="148.90" y="274.20" font-size="7.1" text-anchor="middle" fill="#111">10</text>
<line x1="38.95" y1="266.30" x2="38.95" y2="264.70" stroke="#111" stroke-width="0.9"/>
<line x1="70.25" y1="266.30" x2="70.25" y2="264.70" stroke="#111" stroke-width="0.9"/>
<line x1="101.55" y1="266.30" x2="101.55" y2="264.70" stroke="#111" stroke-width="0.9"/>
<line x1="132.85" y1="266.30" x2="132.85" y2="264.70" stroke="#111" stroke-width="0.9"/>
<text x="86.20" y="287.20" font-size="8.3" text-anchor="middle" fill="#111">Doppler Velocity (mm/s)</text>
<text x="8.00" y="211.30" font-size="8.5" text-anchor="middle" fill="#111" transform="rotate(-90 8.0 211.3)">Intensity (a.u.)</text>
<text x="152.80" y="261.10" font-size="7.2" text-anchor="end" fill="#111">PtFe<tspan font-size="0.64em" baseline-shift="-1.90">7.9</tspan>@MFI</text>
<line x1="20.10" y1="225.40" x2="30.80" y2="225.40" stroke="#7a7a7a" stroke-width="1.5"/>
<text class="sm" x="33.40" y="227.60" font-size="6.25" text-anchor="start" fill="#111">Measured</text>
<line x1="20.10" y1="233.50" x2="30.80" y2="233.50" stroke="#f07070" stroke-width="1.5"/>
<text class="sm" x="33.40" y="235.70" font-size="6.25" text-anchor="start" fill="#111">Fitted</text>
<line x1="20.10" y1="242.00" x2="30.80" y2="242.00" stroke="#5a98ee" stroke-width="1.4"/>
<text class="sm" x="33.40" y="244.20" font-size="6.25" text-anchor="start" fill="#111">FeO<tspan font-size="0.64em" baseline-shift="-1.90">x</tspan>-Tetra</text>
<line x1="20.10" y1="250.90" x2="30.80" y2="250.90" stroke="#5cc08a" stroke-width="1.4"/>
<text class="sm" x="33.40" y="253.10" font-size="6.25" text-anchor="start" fill="#111">FeO<tspan font-size="0.64em" baseline-shift="-1.90">x</tspan>-Hexa</text>
<line x1="20.10" y1="259.90" x2="30.80" y2="259.90" stroke="#b888f0" stroke-width="1.4"/>
<text class="sm" x="33.40" y="262.10" font-size="6.25" text-anchor="start" fill="#111">Partial Reduced Fe</text>
<polyline points="194.70,168.41 194.95,172.26 195.20,167.57 195.45,170.09 195.70,170.26 195.95,170.59 196.20,169.69 196.45,166.97 196.70,172.80 196.95,174.42 197.20,172.23 197.45,170.37 197.70,173.77 197.95,175.15 198.20,173.93 198.45,174.90 198.70,178.94 198.95,173.51 199.20,175.51 199.45,172.95 199.70,176.52 199.95,177.10 200.20,177.24 200.45,178.54 200.70,185.16 200.95,181.01 201.20,181.81 201.45,187.95 201.70,183.12 201.95,179.69 202.20,185.40 202.45,182.76 202.70,189.52 202.95,183.18 203.20,185.36 203.45,183.48 203.70,188.17 203.95,186.10 204.20,188.99 204.45,188.87 204.70,188.94 204.95,193.31 205.20,193.94 205.45,192.49 205.70,190.83 205.95,191.09 206.20,194.97 206.45,200.74 206.70,194.60 206.95,194.51 207.20,195.44 207.45,195.21 207.70,196.26 207.95,198.88 208.20,203.63 208.45,201.04 208.70,200.71 208.95,198.96 209.20,204.28 209.45,204.63 209.70,202.68 209.95,203.92 210.20,207.31 210.45,210.67 210.70,210.53 210.95,210.29 211.20,209.77 211.45,212.04 211.70,211.92 211.95,217.80 212.20,210.42 212.45,212.73 212.70,217.04 212.95,213.65 213.20,217.88 213.45,214.38 213.70,214.73 213.95,213.27 214.20,210.54 214.45,211.16 214.70,218.32 214.95,213.92 215.20,213.05 215.45,212.98 215.70,211.04 215.95,210.97 216.20,206.62 216.45,205.40 216.70,206.95 216.95,202.38 217.20,198.70 217.45,200.04 217.70,198.02 217.95,199.63 218.20,195.37 218.45,193.61 218.70,194.48 218.95,198.20 219.20,193.63 219.45,193.48 219.70,192.52 219.95,192.67 220.20,193.69 220.45,194.34 220.70,186.61 220.95,193.42 221.20,189.78 221.45,188.69 221.70,194.90 221.95,188.45 222.20,193.26 222.45,190.67 222.70,185.65 222.95,189.09 223.20,189.50 223.45,187.27 223.70,181.87 223.95,186.56 224.20,186.90 224.45,184.73 224.70,191.85 224.95,186.99 225.20,186.78 225.45,187.15 225.70,186.13 225.95,186.26 226.20,188.45 226.45,189.13 226.70,187.36 226.95,188.65 227.20,185.89 227.45,190.93 227.70,188.40 227.95,191.30 228.20,189.24 228.45,190.85 228.70,193.30 228.95,190.59 229.20,200.16 229.45,194.90 229.70,195.58 229.95,194.77 230.20,201.15 230.45,201.45 230.70,199.66 230.95,196.48 231.20,199.39 231.45,202.95 231.70,201.16 231.95,200.51 232.20,201.50 232.45,203.52 232.70,206.44 232.95,205.88 233.20,208.50 233.45,216.15 233.70,214.64 233.95,208.75 234.20,212.83 234.45,212.91 234.70,212.99 234.95,216.35 235.20,213.48 235.45,213.81 235.70,213.92 235.95,214.75 236.20,218.13 236.45,216.85 236.70,211.61 236.95,213.52 237.20,212.37 237.45,215.92 237.70,214.14 237.95,215.25 238.20,212.42 238.45,207.42 238.70,212.53 238.95,211.49 239.20,211.70 239.45,206.96 239.70,209.94 239.95,207.81 240.20,207.55 240.45,209.79 240.70,209.54 240.95,206.32 241.20,204.12 241.45,202.07 241.70,206.41 241.95,210.27 242.20,207.24 242.45,201.78 242.70,204.93 242.95,207.84 243.20,210.68 243.45,209.32 243.70,207.27 243.95,206.74 244.20,203.62 244.45,205.00 244.70,205.23 244.95,204.14 245.20,206.16 245.45,205.11 245.70,206.93 245.95,209.67 246.20,208.16 246.45,207.56 246.70,206.19 246.95,203.36 247.20,207.02 247.45,208.90 247.70,205.51 247.95,211.29 248.20,207.85 248.45,209.93 248.70,208.64 248.95,206.81 249.20,215.19 249.45,207.86 249.70,213.30 249.95,210.22 250.20,212.71 250.45,210.60 250.70,212.04 250.95,215.77 251.20,218.76 251.45,212.61 251.70,215.22 251.95,218.04 252.20,214.83 252.45,218.65 252.70,215.66 252.95,219.62 253.20,219.85 253.45,222.38 253.70,221.06 253.95,218.11 254.20,223.39 254.45,220.02 254.70,225.35 254.95,228.08 255.20,226.78 255.45,224.88 255.70,229.87 255.95,228.16 256.20,225.47 256.45,228.32 256.70,233.28 256.95,229.84 257.20,231.54 257.45,231.06 257.70,228.45 257.95,231.83 258.20,234.44 258.45,234.57 258.70,234.09 258.95,229.80 259.20,238.23 259.45,237.38 259.70,238.45 259.95,239.44 260.20,235.56 260.45,235.47 260.70,237.96 260.95,241.50 261.20,233.70 261.45,237.44 261.70,236.52 261.95,239.80 262.20,242.19 262.45,238.17 262.70,236.09 262.95,239.36 263.20,238.71 263.45,235.83 263.70,241.76 263.95,238.46 264.20,241.40 264.45,236.61 264.70,242.37 264.95,236.21 265.20,242.11 265.45,235.11 265.70,242.62 265.95,238.24 266.20,235.23 266.45,238.22 266.70,239.42 266.95,236.06 267.20,237.09 267.45,238.76 267.70,237.54 267.95,230.43 268.20,236.58 268.45,238.46 268.70,237.95 268.95,239.45 269.20,235.15 269.45,242.68 269.70,238.20 269.95,236.73 270.20,238.24 270.45,237.54 270.70,235.06 270.95,232.82 271.20,236.19 271.45,234.11 271.70,227.87 271.95,229.03 272.20,232.04 272.45,230.39 272.70,230.01 272.95,230.08 273.20,228.12 273.45,230.84 273.70,224.93 273.95,224.71 274.20,225.77 274.45,226.12 274.70,225.55 274.95,226.55 275.20,221.15 275.45,224.40 275.70,222.01 275.95,217.66 276.20,219.07 276.45,223.63 276.70,219.72 276.95,215.92 277.20,210.50 277.45,213.70 277.70,212.99 277.95,214.09 278.20,218.70 278.45,214.21 278.70,212.47 278.95,208.81 279.20,207.59 279.45,209.37 279.70,208.24 279.95,216.13 280.20,207.53 280.45,206.67 280.70,210.55 280.95,207.75 281.20,204.37 281.45,210.22 281.70,206.18 281.95,203.55 282.20,207.33 282.45,207.58 282.70,205.48 282.95,207.87 283.20,208.09 283.45,203.95 283.70,201.09 283.95,200.26 284.20,205.69 284.45,208.94 284.70,208.40 284.95,209.35 285.20,210.47 285.45,206.08 285.70,208.60 285.95,202.44 286.20,207.83 286.45,207.20 286.70,206.14 286.95,205.44 287.20,203.99 287.45,207.20 287.70,210.14 287.95,206.44 288.20,208.85 288.45,206.26 288.70,208.76 288.95,206.05 289.20,209.71 289.45,208.64 289.70,210.30 289.95,208.49 290.20,207.54 290.45,210.02 290.70,213.80 290.95,215.72 291.20,211.85 291.45,215.29 291.70,215.98 291.95,215.88 292.20,211.98 292.45,217.21 292.70,214.77 292.95,220.49 293.20,220.02 293.45,219.90 293.70,212.43 293.95,219.87 294.20,219.67 294.45,214.30 294.70,218.86 294.95,215.68 295.20,213.89 295.45,211.35 295.70,209.32 295.95,209.43 296.20,216.65 296.45,208.60 296.70,207.50 296.95,204.19 297.20,202.86 297.45,201.56 297.70,199.31 297.95,202.18 298.20,198.20 298.45,199.84 298.70,194.04 298.95,198.22 299.20,195.24 299.45,196.32 299.70,193.97 299.95,191.64 300.20,196.26 300.45,191.93 300.70,192.26 300.95,190.15 301.20,192.45 301.45,190.73 301.70,192.05 301.95,191.94 302.20,189.20 302.45,187.23 302.70,191.43 302.95,192.39 303.20,191.66 303.45,187.06 303.70,191.10 303.95,190.42 304.20,190.05 304.45,190.29 304.70,188.40 304.95,189.62 305.20,191.29 305.45,187.84 305.70,185.62 305.95,188.89 306.20,189.74 306.45,185.03 306.70,188.12 306.95,191.52 307.20,190.19 307.45,191.31 307.70,188.69 307.95,194.60 308.20,197.42 308.45,193.57 308.70,193.20 308.95,193.11 309.20,198.97 309.45,198.01 309.70,196.73 309.95,202.36 310.20,202.05 310.45,202.46 310.70,197.63 310.95,202.46 311.20,205.10 311.45,201.57 311.70,207.65 311.95,209.76 312.20,209.71 312.45,206.38 312.70,207.26 312.95,212.01 313.20,212.92 313.45,214.34 313.70,215.17 313.95,212.94 314.20,213.00 314.45,210.16 314.70,216.90 314.95,220.65 315.20,213.99 315.45,213.63 315.70,215.80 315.95,214.47 316.20,209.49 316.45,210.20 316.70,208.34 316.95,214.85 317.20,207.28 317.45,210.05 317.70,211.62 317.95,210.63 318.20,208.60 318.45,208.14 318.70,200.28 318.95,201.39 319.20,199.45 319.45,199.50 319.70,205.52 319.95,194.25 320.20,198.70 320.45,193.48 320.70,198.72 320.95,197.66 321.20,192.33 321.45,197.54 321.70,191.77 321.95,193.73 322.20,190.38 322.45,187.32 322.70,186.80 322.95,186.50 323.20,187.34 323.45,185.27 323.70,189.76 323.95,182.79 324.20,181.32 324.45,179.93 324.70,179.04 324.95,176.74 325.20,177.17 325.45,181.10 325.70,178.51 325.95,177.44 326.20,178.22 326.45,179.49 326.70,178.00 326.95,177.99 327.20,174.43 327.45,174.80 327.70,173.23 327.95,174.55 328.20,172.51 328.45,173.29 328.70,173.48 328.95,173.11 329.20,172.72 329.45,171.92 329.70,176.00 329.95,171.78 330.20,169.93 330.45,172.58 330.70,169.25" fill="none" stroke="#2a2a2a" stroke-width="0.65" stroke-linejoin="round" opacity="1"/>
<path d="M194.10,168.30 C197.25,168.95 207.83,171.00 213.00,172.20 C218.17,173.40 221.77,173.95 225.10,175.50 C228.43,177.05 230.77,179.58 233.00,181.50 C235.23,183.42 236.43,185.35 238.50,187.00 C240.57,188.65 243.53,190.47 245.40,191.40 C247.27,192.33 247.80,192.67 249.70,192.60 C251.60,192.53 254.75,191.42 256.80,191.00 C258.85,190.58 259.73,190.10 262.00,190.10 C264.27,190.10 267.90,190.60 270.40,191.00 C272.90,191.40 274.70,192.13 277.00,192.50 C279.30,192.87 282.28,193.53 284.20,193.20 C286.12,192.87 287.20,191.70 288.50,190.50 C289.80,189.30 290.58,187.75 292.00,186.00 C293.42,184.25 295.08,181.50 297.00,180.00 C298.92,178.50 300.27,178.35 303.50,177.00 C306.73,175.65 311.73,173.18 316.40,171.90 C321.07,170.62 328.98,169.73 331.50,169.30" fill="none" stroke="#b070e8" stroke-width="1.1" stroke-linejoin="round" stroke-linecap="round" opacity="1"/>
<path d="M194.10,170.20 C195.35,172.42 199.40,178.73 201.60,183.50 C203.80,188.27 205.90,194.72 207.30,198.80 C208.70,202.88 209.15,205.63 210.00,208.00 C210.85,210.37 211.65,213.00 212.40,213.00 C213.15,213.00 213.92,210.33 214.50,208.00 C215.08,205.67 215.20,202.45 215.90,199.00 C216.60,195.55 217.43,190.42 218.70,187.30 C219.97,184.18 221.92,180.77 223.50,180.30 C225.08,179.83 226.87,182.55 228.20,184.50 C229.53,186.45 230.38,189.47 231.50,192.00 C232.62,194.53 233.73,199.70 234.90,199.70 C236.07,199.70 237.15,195.20 238.50,192.00 C239.85,188.80 241.37,183.07 243.00,180.50 C244.63,177.93 246.72,176.68 248.30,176.60 C249.88,176.52 251.17,178.43 252.50,180.00 C253.83,181.57 254.97,186.00 256.30,186.00 C257.63,186.00 259.07,181.45 260.50,180.00 C261.93,178.55 263.48,177.30 264.90,177.30 C266.32,177.30 267.57,178.50 269.00,180.00 C270.43,181.50 272.00,186.30 273.50,186.30 C275.00,186.30 276.55,181.62 278.00,180.00 C279.45,178.38 280.87,176.77 282.20,176.60 C283.53,176.43 284.73,177.15 286.00,179.00 C287.27,180.85 288.37,184.27 289.80,187.70 C291.23,191.13 293.07,199.22 294.60,199.60 C296.13,199.98 297.52,192.90 299.00,190.00 C300.48,187.10 302.00,182.53 303.50,182.20 C305.00,181.87 306.58,184.70 308.00,188.00 C309.42,191.30 310.80,198.17 312.00,202.00 C313.20,205.83 314.12,211.00 315.20,211.00 C316.28,211.00 317.37,205.83 318.50,202.00 C319.63,198.17 320.83,191.95 322.00,188.00 C323.17,184.05 323.92,180.98 325.50,178.30 C327.08,175.62 330.50,172.97 331.50,171.90" fill="none" stroke="#30b070" stroke-width="1.1" stroke-linejoin="round" stroke-linecap="round" opacity="1"/>
<path d="M194.10,167.90 C198.83,168.13 215.55,168.75 222.50,169.30 C229.45,169.85 231.98,170.25 235.80,171.20 C239.62,172.15 242.63,173.28 245.40,175.00 C248.17,176.72 250.63,179.17 252.40,181.50 C254.17,183.83 254.95,186.28 256.00,189.00 C257.05,191.72 257.78,195.13 258.70,197.80 C259.62,200.47 260.45,203.32 261.50,205.00 C262.55,206.68 263.83,207.90 265.00,207.90 C266.17,207.90 267.48,207.15 268.50,205.00 C269.52,202.85 270.27,198.17 271.10,195.00 C271.93,191.83 272.47,188.83 273.50,186.00 C274.53,183.17 275.98,180.15 277.30,178.00 C278.62,175.85 280.02,174.25 281.40,173.10 C282.78,171.95 283.22,171.87 285.60,171.10 C287.98,170.33 291.63,169.10 295.70,168.50 C299.77,167.90 304.03,167.77 310.00,167.50 C315.97,167.23 327.92,167.00 331.50,166.90" fill="none" stroke="#2f74e0" stroke-width="1.15" stroke-linejoin="round" stroke-linecap="round" opacity="1"/>
<path d="M194.10,171.20 C194.67,171.83 196.35,172.92 197.50,175.00 C198.65,177.08 199.83,180.87 201.00,183.70 C202.17,186.53 203.37,189.12 204.50,192.00 C205.63,194.88 206.80,197.92 207.80,201.00 C208.80,204.08 209.72,208.03 210.50,210.50 C211.28,212.97 211.92,214.85 212.50,215.80 C213.08,216.75 213.48,216.80 214.00,216.20 C214.52,215.60 214.90,215.03 215.60,212.20 C216.30,209.37 217.38,202.40 218.20,199.20 C219.02,196.00 219.63,194.58 220.50,193.00 C221.37,191.42 222.57,190.20 223.40,189.70 C224.23,189.20 224.78,189.57 225.50,190.00 C226.22,190.43 226.75,190.18 227.70,192.30 C228.65,194.42 230.15,199.17 231.20,202.70 C232.25,206.23 233.23,211.12 234.00,213.50 C234.77,215.88 235.22,216.58 235.80,217.00 C236.38,217.42 236.80,216.92 237.50,216.00 C238.20,215.08 238.73,212.82 240.00,211.50 C241.27,210.18 243.60,208.02 245.10,208.10 C246.60,208.18 247.65,209.87 249.00,212.00 C250.35,214.13 252.03,217.90 253.20,220.90 C254.37,223.90 255.03,227.30 256.00,230.00 C256.97,232.70 257.73,235.15 259.00,237.10 C260.27,239.05 262.27,241.13 263.60,241.70 C264.93,242.27 265.83,241.27 267.00,240.50 C268.17,239.73 269.52,239.02 270.60,237.10 C271.68,235.18 272.63,231.40 273.50,229.00 C274.37,226.60 274.83,225.48 275.80,222.70 C276.77,219.92 278.27,214.62 279.30,212.30 C280.33,209.98 281.08,209.50 282.00,208.80 C282.92,208.10 283.88,208.07 284.80,208.10 C285.72,208.13 286.55,208.18 287.50,209.00 C288.45,209.82 289.45,211.07 290.50,213.00 C291.55,214.93 292.80,221.10 293.80,220.60 C294.80,220.10 295.53,214.02 296.50,210.00 C297.47,205.98 298.00,199.62 299.60,196.50 C301.20,193.38 304.37,190.43 306.10,191.30 C307.83,192.17 308.85,198.25 310.00,201.70 C311.15,205.15 312.13,209.42 313.00,212.00 C313.87,214.58 314.37,217.87 315.20,217.20 C316.03,216.53 317.15,211.02 318.00,208.00 C318.85,204.98 319.05,203.62 320.30,199.10 C321.55,194.58 323.63,185.23 325.50,180.90 C327.37,176.57 330.50,174.40 331.50,173.10" fill="none" stroke="#e83030" stroke-width="1.15" stroke-linejoin="round" stroke-linecap="round" opacity="1"/>
<path d="M194.10,156.00 V266.40 H331.50 V156.00" fill="none" stroke="#111" stroke-width="1.35" stroke-linejoin="miter" stroke-linecap="square"/>
<line x1="194.10" y1="156.00" x2="331.50" y2="156.00" stroke="#111" stroke-width="1.05" stroke-linecap="square"/>
<line x1="200.50" y1="266.40" x2="200.50" y2="263.80" stroke="#111" stroke-width="1"/>
<text x="200.90" y="274.20" font-size="7.1" text-anchor="middle" fill="#111">-10</text>
<line x1="231.55" y1="266.40" x2="231.55" y2="263.80" stroke="#111" stroke-width="1"/>
<text x="231.95" y="274.20" font-size="7.1" text-anchor="middle" fill="#111">-5</text>
<line x1="262.60" y1="266.40" x2="262.60" y2="263.80" stroke="#111" stroke-width="1"/>
<text x="263.00" y="274.20" font-size="7.1" text-anchor="middle" fill="#111">0</text>
<line x1="293.65" y1="266.40" x2="293.65" y2="263.80" stroke="#111" stroke-width="1"/>
<text x="294.05" y="274.20" font-size="7.1" text-anchor="middle" fill="#111">5</text>
<line x1="324.70" y1="266.40" x2="324.70" y2="263.80" stroke="#111" stroke-width="1"/>
<text x="325.10" y="274.20" font-size="7.1" text-anchor="middle" fill="#111">10</text>
<line x1="216.03" y1="266.40" x2="216.03" y2="264.80" stroke="#111" stroke-width="0.9"/>
<line x1="247.08" y1="266.40" x2="247.08" y2="264.80" stroke="#111" stroke-width="0.9"/>
<line x1="278.12" y1="266.40" x2="278.12" y2="264.80" stroke="#111" stroke-width="0.9"/>
<line x1="309.18" y1="266.40" x2="309.18" y2="264.80" stroke="#111" stroke-width="0.9"/>
<text x="262.80" y="287.20" font-size="8.3" text-anchor="middle" fill="#111">Doppler Velocity (mm/s)</text>
<text x="180.90" y="211.30" font-size="8.5" text-anchor="middle" fill="#111" transform="rotate(-90 180.9 211.3)">Intensity (a.u.)</text>
<text x="328.90" y="261.30" font-size="7.2" text-anchor="end" fill="#111">PtFe<tspan font-size="0.64em" baseline-shift="-1.90">4.7</tspan>@MFI</text>
<line x1="196.10" y1="226.60" x2="207.50" y2="226.60" stroke="#7a7a7a" stroke-width="1.5"/>
<text class="sm" x="209.60" y="228.80" font-size="6.25" text-anchor="start" fill="#111">Measured</text>
<line x1="196.10" y1="234.40" x2="207.50" y2="234.40" stroke="#f07070" stroke-width="1.5"/>
<text class="sm" x="209.60" y="236.60" font-size="6.25" text-anchor="start" fill="#111">Fitted</text>
<line x1="196.10" y1="242.30" x2="207.50" y2="242.30" stroke="#5a98ee" stroke-width="1.4"/>
<text class="sm" x="209.60" y="244.50" font-size="6.25" text-anchor="start" fill="#111">FeO<tspan font-size="0.64em" baseline-shift="-1.90">x</tspan>-Tetra</text>
<line x1="196.10" y1="251.30" x2="207.50" y2="251.30" stroke="#5cc08a" stroke-width="1.4"/>
<text class="sm" x="209.60" y="253.50" font-size="6.25" text-anchor="start" fill="#111">FeO<tspan font-size="0.64em" baseline-shift="-1.90">x</tspan>-Hexa</text>
<line x1="196.10" y1="260.80" x2="207.50" y2="260.80" stroke="#b888f0" stroke-width="1.4"/>
<text class="sm" x="209.60" y="263.00" font-size="6.25" text-anchor="start" fill="#111">Partial Reduced Fe</text>
<polyline points="369.30,170.26 369.52,174.81 369.74,168.30 369.96,162.55 370.18,176.03 370.40,179.01 370.62,168.88 370.84,171.96 371.06,177.72 371.28,168.12 371.50,172.51 371.72,171.41 371.94,175.39 372.16,168.81 372.38,179.87 372.60,176.09 372.82,177.97 373.04,175.74 373.26,169.11 373.48,176.78 373.70,172.46 373.92,177.79 374.14,174.72 374.36,176.97 374.58,177.60 374.80,181.57 375.02,181.80 375.24,175.32 375.46,179.36 375.68,185.26 375.90,181.90 376.12,177.59 376.34,180.25 376.56,179.75 376.78,185.03 377.00,181.98 377.22,183.69 377.44,191.09 377.66,177.88 377.88,179.72 378.10,177.45 378.32,178.44 378.54,188.23 378.76,186.56 378.98,192.13 379.20,178.92 379.42,183.57 379.64,192.90 379.86,191.82 380.08,191.76 380.30,192.19 380.52,189.49 380.74,189.80 380.96,190.42 381.18,193.96 381.40,190.58 381.62,192.86 381.84,197.61 382.06,188.25 382.28,190.12 382.50,195.55 382.72,192.85 382.94,193.70 383.16,202.71 383.38,196.76 383.60,194.03 383.82,200.24 384.04,206.07 384.26,192.73 384.48,194.84 384.70,198.27 384.92,195.85 385.14,206.96 385.36,201.14 385.58,198.07 385.80,201.88 386.02,197.42 386.24,198.59 386.46,201.78 386.68,211.02 386.90,194.03 387.12,204.86 387.34,209.04 387.56,207.23 387.78,212.05 388.00,206.64 388.22,205.56 388.44,204.51 388.66,201.69 388.88,211.05 389.10,200.17 389.32,204.00 389.54,202.25 389.76,201.01 389.98,195.28 390.20,202.00 390.42,203.68 390.64,203.41 390.86,205.77 391.08,201.63 391.30,199.51 391.52,202.81 391.74,203.86 391.96,197.60 392.18,194.96 392.40,196.56 392.62,204.19 392.84,203.71 393.06,196.29 393.28,199.84 393.50,202.39 393.72,204.04 393.94,196.26 394.16,197.63 394.38,203.67 394.60,207.25 394.82,203.67 395.04,193.29 395.26,199.10 395.48,196.03 395.70,196.72 395.92,194.21 396.14,194.70 396.36,196.28 396.58,202.97 396.80,198.59 397.02,197.38 397.24,195.70 397.46,192.59 397.68,194.43 397.90,199.89 398.12,198.23 398.34,202.44 398.56,195.90 398.78,194.78 399.00,188.67 399.22,196.31 399.44,188.26 399.66,200.64 399.88,192.50 400.10,194.95 400.32,189.90 400.54,193.24 400.76,191.69 400.98,199.65 401.20,196.43 401.42,191.14 401.64,188.43 401.86,195.67 402.08,194.25 402.30,192.05 402.52,198.70 402.74,195.94 402.96,197.26 403.18,194.80 403.40,195.08 403.62,195.71 403.84,191.59 404.06,200.30 404.28,199.66 404.50,191.81 404.72,198.98 404.94,203.21 405.16,199.97 405.38,204.25 405.60,198.58 405.82,199.91 406.04,195.30 406.26,197.16 406.48,194.07 406.70,198.02 406.92,202.80 407.14,204.31 407.36,207.24 407.58,203.79 407.80,199.98 408.02,205.81 408.24,204.02 408.46,211.76 408.68,212.85 408.90,209.50 409.12,201.99 409.34,204.77 409.56,207.94 409.78,204.94 410.00,210.04 410.22,211.03 410.44,211.94 410.66,209.91 410.88,205.93 411.10,206.30 411.32,209.20 411.54,214.84 411.76,215.89 411.98,213.72 412.20,211.45 412.42,212.69 412.64,213.29 412.86,215.10 413.08,213.46 413.30,204.39 413.52,213.85 413.74,211.69 413.96,208.48 414.18,212.22 414.40,211.31 414.62,210.00 414.84,203.78 415.06,210.62 415.28,212.29 415.50,209.95 415.72,204.05 415.94,211.75 416.16,212.66 416.38,210.52 416.60,211.36 416.82,208.31 417.04,207.06 417.26,211.48 417.48,208.08 417.70,210.07 417.92,221.72 418.14,212.05 418.36,209.88 418.58,203.24 418.80,209.83 419.02,212.43 419.24,206.98 419.46,208.87 419.68,201.35 419.90,212.17 420.12,207.95 420.34,212.97 420.56,215.73 420.78,210.10 421.00,214.64 421.22,212.04 421.44,210.50 421.66,210.41 421.88,208.45 422.10,216.77 422.32,215.44 422.54,208.49 422.76,215.73 422.98,209.98 423.20,207.25 423.42,217.76 423.64,208.56 423.86,218.16 424.08,214.64 424.30,217.55 424.52,216.31 424.74,219.01 424.96,216.21 425.18,217.36 425.40,216.40 425.62,219.91 425.84,214.56 426.06,220.22 426.28,222.40 426.50,216.76 426.72,219.00 426.94,215.71 427.16,216.90 427.38,219.31 427.60,217.35 427.82,215.61 428.04,219.19 428.26,220.37 428.48,221.20 428.70,223.01 428.92,213.92 429.14,226.38 429.36,220.71 429.58,218.79 429.80,220.68 430.02,224.15 430.24,226.15 430.46,221.84 430.68,224.22 430.90,217.95 431.12,225.07 431.34,224.42 431.56,223.64 431.78,229.08 432.00,232.98 432.22,230.55 432.44,224.11 432.66,233.35 432.88,226.74 433.10,228.32 433.32,226.73 433.54,231.13 433.76,231.96 433.98,230.85 434.20,229.95 434.42,230.63 434.64,230.08 434.86,235.71 435.08,230.44 435.30,232.24 435.52,232.38 435.74,230.71 435.96,233.06 436.18,228.73 436.40,236.20 436.62,237.07 436.84,234.23 437.06,241.62 437.28,232.95 437.50,238.50 437.72,238.54 437.94,235.01 438.16,236.43 438.38,241.01 438.60,238.15 438.82,239.24 439.04,243.71 439.26,239.45 439.48,232.48 439.70,236.18 439.92,242.23 440.14,238.65 440.36,235.08 440.58,231.64 440.80,240.25 441.02,244.55 441.24,233.94 441.46,230.25 441.68,240.08 441.90,235.89 442.12,236.58 442.34,236.24 442.56,233.82 442.78,238.65 443.00,240.21 443.22,237.85 443.44,234.09 443.66,239.83 443.88,235.17 444.10,237.46 444.32,231.40 444.54,237.06 444.76,237.03 444.98,238.72 445.20,233.58 445.42,234.77 445.64,230.53 445.86,235.64 446.08,234.83 446.30,235.56 446.52,229.60 446.74,226.01 446.96,229.92 447.18,228.94 447.40,226.46 447.62,231.10 447.84,231.93 448.06,229.40 448.28,231.64 448.50,228.49 448.72,222.87 448.94,223.89 449.16,224.31 449.38,227.77 449.60,228.21 449.82,224.81 450.04,227.67 450.26,220.33 450.48,222.56 450.70,228.18 450.92,223.81 451.14,225.66 451.36,214.24 451.58,214.66 451.80,217.30 452.02,223.95 452.24,225.91 452.46,217.13 452.68,215.39 452.90,214.92 453.12,215.03 453.34,220.11 453.56,216.50 453.78,224.38 454.00,219.70 454.22,214.10 454.44,217.23 454.66,215.44 454.88,218.67 455.10,218.80 455.32,213.81 455.54,218.16 455.76,216.67 455.98,213.95 456.20,214.97 456.42,216.32 456.64,212.34 456.86,210.78 457.08,217.85 457.30,212.93 457.52,210.52 457.74,214.31 457.96,206.94 458.18,212.57 458.40,207.20 458.62,210.64 458.84,205.56 459.06,209.55 459.28,215.61 459.50,211.64 459.72,207.87 459.94,218.99 460.16,210.26 460.38,218.27 460.60,210.89 460.82,207.51 461.04,219.99 461.26,211.61 461.48,216.16 461.70,217.86 461.92,208.59 462.14,213.84 462.36,211.51 462.58,216.03 462.80,213.84 463.02,209.32 463.24,214.39 463.46,217.18 463.68,213.39 463.90,216.74 464.12,212.81 464.34,214.75 464.56,216.37 464.78,215.72 465.00,220.03 465.22,218.91 465.44,218.59 465.66,218.17 465.88,216.08 466.10,211.16 466.32,219.40 466.54,221.84 466.76,216.08 466.98,214.15 467.20,214.76 467.42,219.17 467.64,215.48 467.86,210.48 468.08,213.18 468.30,210.63 468.52,212.39 468.74,209.43 468.96,209.12 469.18,217.49 469.40,215.47 469.62,205.18 469.84,207.10 470.06,208.68 470.28,208.48 470.50,204.38 470.72,212.42 470.94,202.74 471.16,210.93 471.38,210.57 471.60,206.27 471.82,204.86 472.04,207.19 472.26,207.20 472.48,198.52 472.70,201.33 472.92,207.62 473.14,204.90 473.36,203.42 473.58,200.93 473.80,201.66 474.02,201.10 474.24,213.97 474.46,198.59 474.68,208.61 474.90,204.36 475.12,203.04 475.34,202.65 475.56,200.19 475.78,207.27 476.00,202.88 476.22,200.58 476.44,199.95 476.66,200.86 476.88,195.62 477.10,198.42 477.32,197.04 477.54,201.45 477.76,201.18 477.98,191.83 478.20,197.77 478.42,202.15 478.64,193.57 478.86,193.92 479.08,202.01 479.30,197.82 479.52,196.67 479.74,193.92 479.96,199.20 480.18,196.66 480.40,199.72 480.62,200.74 480.84,202.03 481.06,198.50 481.28,198.04 481.50,200.40 481.72,200.22 481.94,201.51 482.16,199.18 482.38,200.52 482.60,199.47 482.82,199.68 483.04,202.65 483.26,206.55 483.48,200.49 483.70,204.88 483.92,204.23 484.14,203.60 484.36,205.96 484.58,201.62 484.80,206.04 485.02,205.31 485.24,191.48 485.46,206.02 485.68,207.18 485.90,212.47 486.12,201.50 486.34,206.04 486.56,207.22 486.78,202.53 487.00,210.82 487.22,208.23 487.44,203.78 487.66,202.46 487.88,205.53 488.10,216.03 488.32,215.34 488.54,198.18 488.76,200.65 488.98,209.90 489.20,206.93 489.42,204.83 489.64,209.22 489.86,207.01 490.08,207.30 490.30,206.69 490.52,201.04 490.74,209.30 490.96,201.99 491.18,207.24 491.40,204.97 491.62,201.98 491.84,201.86 492.06,200.75 492.28,193.67 492.50,198.94 492.72,201.38 492.94,193.42 493.16,193.52 493.38,202.75 493.60,201.40 493.82,192.28 494.04,199.41 494.26,197.17 494.48,200.64 494.70,195.43 494.92,195.45 495.14,193.11 495.36,196.20 495.58,194.67 495.80,192.31 496.02,193.05 496.24,191.11 496.46,195.83 496.68,189.21 496.90,186.81 497.12,188.56 497.34,195.74 497.56,189.33 497.78,193.16 498.00,193.01 498.22,187.87 498.44,192.11 498.66,190.68 498.88,188.13 499.10,185.16 499.32,187.07 499.54,182.00 499.76,185.27 499.98,183.63 500.20,186.94 500.42,186.08 500.64,181.90 500.86,187.03 501.08,187.76 501.30,183.05 501.52,179.54 501.74,183.71 501.96,172.19 502.18,178.67 502.40,182.56 502.62,187.41 502.84,176.69 503.06,184.73 503.28,187.29 503.50,185.21 503.72,168.90 503.94,181.47 504.16,177.69 504.38,180.41 504.60,175.59 504.82,173.61 505.04,174.74 505.26,180.91 505.48,178.13 505.70,173.58" fill="none" stroke="#2a2a2a" stroke-width="0.6" stroke-linejoin="round" opacity="1"/>
<path d="M368.70,169.30 C371.75,169.62 381.73,170.25 387.00,171.20 C392.27,172.15 396.17,172.95 400.30,175.00 C404.43,177.05 408.62,180.97 411.80,183.50 C414.98,186.03 416.58,188.42 419.40,190.20 C422.22,191.98 425.08,193.43 428.70,194.20 C432.32,194.97 436.27,194.85 441.10,194.80 C445.93,194.75 453.20,195.35 457.70,193.90 C462.20,192.45 464.20,188.92 468.10,186.10 C472.00,183.28 476.78,179.25 481.10,177.00 C485.42,174.75 489.78,173.77 494.00,172.60 C498.22,171.43 504.33,170.43 506.40,170.00" fill="none" stroke="#b070e8" stroke-width="1.1" stroke-linejoin="round" stroke-linecap="round" opacity="1"/>
<path d="M368.70,173.10 C369.53,173.88 371.92,175.75 373.70,177.80 C375.48,179.85 377.50,182.38 379.40,185.40 C381.30,188.42 383.52,192.88 385.10,195.90 C386.68,198.92 387.32,204.13 388.90,203.50 C390.48,202.87 392.53,194.63 394.60,192.10 C396.67,189.57 399.40,188.47 401.30,188.30 C403.20,188.13 404.42,189.83 406.00,191.10 C407.58,192.37 409.05,196.37 410.80,195.90 C412.55,195.43 414.82,190.55 416.50,188.30 C418.18,186.05 419.32,183.12 420.90,182.40 C422.48,181.68 423.93,183.17 426.00,184.00 C428.07,184.83 431.38,187.32 433.30,187.40 C435.22,187.48 436.20,185.18 437.50,184.50 C438.80,183.82 439.85,182.95 441.10,183.30 C442.35,183.65 443.70,185.92 445.00,186.60 C446.30,187.28 447.22,188.00 448.90,187.40 C450.58,186.80 453.30,183.83 455.10,183.00 C456.90,182.17 458.22,181.40 459.70,182.40 C461.18,183.40 462.38,186.65 464.00,189.00 C465.62,191.35 467.73,196.00 469.40,196.50 C471.07,197.00 472.27,193.30 474.00,192.00 C475.73,190.70 477.97,188.20 479.80,188.70 C481.63,189.20 483.27,192.62 485.00,195.00 C486.73,197.38 488.53,203.33 490.20,203.00 C491.87,202.67 493.50,195.82 495.00,193.00 C496.50,190.18 497.30,188.98 499.20,186.10 C501.10,183.22 505.20,177.43 506.40,175.70" fill="none" stroke="#30b070" stroke-width="1.1" stroke-linejoin="round" stroke-linecap="round" opacity="1"/>
<path d="M368.70,168.30 C373.92,168.38 392.18,168.63 400.00,168.80 C407.82,168.97 411.93,168.85 415.60,169.30 C419.27,169.75 420.10,170.63 422.00,171.50 C423.90,172.37 425.50,172.92 427.00,174.50 C428.50,176.08 429.83,178.42 431.00,181.00 C432.17,183.58 433.03,187.33 434.00,190.00 C434.97,192.67 435.88,195.48 436.80,197.00 C437.72,198.52 438.55,199.27 439.50,199.10 C440.45,198.93 441.18,198.60 442.50,196.00 C443.82,193.40 445.98,186.83 447.40,183.50 C448.82,180.17 449.72,177.93 451.00,176.00 C452.28,174.07 451.82,173.15 455.10,171.90 C458.38,170.65 462.15,169.15 470.70,168.50 C479.25,167.85 500.45,168.08 506.40,168.00" fill="none" stroke="#2f74e0" stroke-width="1.15" stroke-linejoin="round" stroke-linecap="round" opacity="1"/>
<path d="M368.70,175.90 C369.85,176.85 373.50,178.75 375.60,181.60 C377.70,184.45 379.55,189.50 381.30,193.00 C383.05,196.50 384.90,200.27 386.10,202.60 C387.30,204.93 387.27,207.23 388.50,207.00 C389.73,206.77 391.72,202.90 393.50,201.20 C395.28,199.50 397.27,196.83 399.20,196.80 C401.13,196.77 403.60,199.38 405.10,201.00 C406.60,202.62 407.20,204.75 408.20,206.50 C409.20,208.25 409.97,210.55 411.10,211.50 C412.23,212.45 413.70,212.20 415.00,212.20 C416.30,212.20 417.40,210.90 418.90,211.50 C420.40,212.10 422.57,214.30 424.00,215.80 C425.43,217.30 426.33,218.77 427.50,220.50 C428.67,222.23 429.70,223.82 431.00,226.20 C432.30,228.58 433.87,232.35 435.30,234.80 C436.73,237.25 438.43,240.12 439.60,240.90 C440.77,241.68 441.28,240.55 442.30,239.50 C443.32,238.45 444.08,237.48 445.70,234.60 C447.32,231.72 450.00,225.53 452.00,222.20 C454.00,218.87 456.03,215.72 457.70,214.60 C459.37,213.48 460.48,215.07 462.00,215.50 C463.52,215.93 465.13,218.28 466.80,217.20 C468.47,216.12 470.05,211.80 472.00,209.00 C473.95,206.20 476.67,201.23 478.50,200.40 C480.33,199.57 481.27,202.50 483.00,204.00 C484.73,205.50 487.40,209.57 488.90,209.40 C490.40,209.23 490.72,205.37 492.00,203.00 C493.28,200.63 494.75,198.88 496.60,195.20 C498.45,191.52 501.47,184.15 503.10,180.90 C504.73,177.65 505.85,176.57 506.40,175.70" fill="none" stroke="#e83030" stroke-width="1.15" stroke-linejoin="round" stroke-linecap="round" opacity="1"/>
<path d="M368.70,156.00 V266.30 H506.40 V156.00" fill="none" stroke="#111" stroke-width="1.35" stroke-linejoin="miter" stroke-linecap="square"/>
<line x1="368.70" y1="156.00" x2="506.40" y2="156.00" stroke="#111" stroke-width="1.05" stroke-linecap="square"/>
<line x1="375.70" y1="266.30" x2="375.70" y2="263.70" stroke="#111" stroke-width="1"/>
<text x="376.10" y="274.20" font-size="7.1" text-anchor="middle" fill="#111">-10</text>
<line x1="406.80" y1="266.30" x2="406.80" y2="263.70" stroke="#111" stroke-width="1"/>
<text x="407.20" y="274.20" font-size="7.1" text-anchor="middle" fill="#111">-5</text>
<line x1="437.90" y1="266.30" x2="437.90" y2="263.70" stroke="#111" stroke-width="1"/>
<text x="438.30" y="274.20" font-size="7.1" text-anchor="middle" fill="#111">0</text>
<line x1="469.00" y1="266.30" x2="469.00" y2="263.70" stroke="#111" stroke-width="1"/>
<text x="469.40" y="274.20" font-size="7.1" text-anchor="middle" fill="#111">5</text>
<line x1="500.10" y1="266.30" x2="500.10" y2="263.70" stroke="#111" stroke-width="1"/>
<text x="500.50" y="274.20" font-size="7.1" text-anchor="middle" fill="#111">10</text>
<line x1="391.25" y1="266.30" x2="391.25" y2="264.70" stroke="#111" stroke-width="0.9"/>
<line x1="422.35" y1="266.30" x2="422.35" y2="264.70" stroke="#111" stroke-width="0.9"/>
<line x1="453.45" y1="266.30" x2="453.45" y2="264.70" stroke="#111" stroke-width="0.9"/>
<line x1="484.55" y1="266.30" x2="484.55" y2="264.70" stroke="#111" stroke-width="0.9"/>
<text x="437.80" y="287.20" font-size="8.3" text-anchor="middle" fill="#111">Doppler Velocity (mm/s)</text>
<text x="357.00" y="211.30" font-size="8.5" text-anchor="middle" fill="#111" transform="rotate(-90 357.0 211.3)">Intensity (a.u.)</text>
<text x="503.90" y="261.30" font-size="7.2" text-anchor="end" fill="#111">PtFe<tspan font-size="0.64em" baseline-shift="-1.90">2.4</tspan>@MFI</text>
<line x1="371.50" y1="225.50" x2="381.90" y2="225.50" stroke="#7a7a7a" stroke-width="1.5"/>
<text class="sm" x="384.70" y="227.70" font-size="6.25" text-anchor="start" fill="#111">Measured</text>
<line x1="371.50" y1="233.60" x2="381.90" y2="233.60" stroke="#f07070" stroke-width="1.5"/>
<text class="sm" x="384.70" y="235.80" font-size="6.25" text-anchor="start" fill="#111">Fitted</text>
<line x1="371.50" y1="242.20" x2="381.90" y2="242.20" stroke="#5a98ee" stroke-width="1.4"/>
<text class="sm" x="384.70" y="244.40" font-size="6.25" text-anchor="start" fill="#111">FeO<tspan font-size="0.64em" baseline-shift="-1.90">x</tspan>-Tetra</text>
<line x1="371.50" y1="251.00" x2="381.90" y2="251.00" stroke="#5cc08a" stroke-width="1.4"/>
<text class="sm" x="384.70" y="253.20" font-size="6.25" text-anchor="start" fill="#111">FeO<tspan font-size="0.64em" baseline-shift="-1.90">x</tspan>-Hexa</text>
<line x1="371.50" y1="260.70" x2="381.90" y2="260.70" stroke="#b888f0" stroke-width="1.4"/>
<text class="sm" x="384.70" y="262.90" font-size="6.25" text-anchor="start" fill="#111">Partial Reduced Fe</text>
<rect x="552.40" y="193.67" width="9.2" height="72.93" fill="#5088d8" stroke="#222" stroke-width="0.85"/>
<text class="sm" x="557.00" y="192.37" font-size="6.0" text-anchor="middle" fill="#111">0.33</text>
<rect x="563.85" y="171.57" width="9.2" height="95.03" fill="#5cae80" stroke="#222" stroke-width="0.85"/>
<text class="sm" x="568.45" y="170.27" font-size="6.0" text-anchor="middle" fill="#111">0.43</text>
<rect x="575.30" y="220.19" width="9.2" height="46.41" fill="#b888d8" stroke="#222" stroke-width="0.85"/>
<text class="sm" x="579.90" y="218.89" font-size="6.0" text-anchor="middle" fill="#111">0.21</text>
<rect x="598.10" y="244.50" width="9.2" height="22.10" fill="#5088d8" stroke="#222" stroke-width="0.85"/>
<text class="sm" x="602.70" y="243.20" font-size="6.0" text-anchor="middle" fill="#111">0.1</text>
<rect x="609.55" y="206.93" width="9.2" height="59.67" fill="#5cae80" stroke="#222" stroke-width="0.85"/>
<text class="sm" x="614.15" y="205.63" font-size="6.0" text-anchor="middle" fill="#111">0.27</text>
<rect x="621.00" y="220.19" width="9.2" height="46.41" fill="#b888d8" stroke="#222" stroke-width="0.85"/>
<text class="sm" x="625.60" y="218.89" font-size="6.0" text-anchor="middle" fill="#111">0.21</text>
<rect x="644.40" y="259.97" width="9.2" height="6.63" fill="#5088d8" stroke="#222" stroke-width="0.85"/>
<text class="sm" x="649.00" y="258.67" font-size="6.0" text-anchor="middle" fill="#111">0.03</text>
<rect x="655.85" y="235.66" width="9.2" height="30.94" fill="#5cae80" stroke="#222" stroke-width="0.85"/>
<text class="sm" x="660.45" y="234.36" font-size="6.0" text-anchor="middle" fill="#111">0.14</text>
<rect x="667.30" y="244.50" width="9.2" height="22.10" fill="#b888d8" stroke="#222" stroke-width="0.85"/>
<text class="sm" x="671.90" y="243.20" font-size="6.0" text-anchor="middle" fill="#111">0.1</text>
<path d="M545.40,156.00 V266.60 H683.40 V156.00" fill="none" stroke="#111" stroke-width="1.35" stroke-linejoin="miter" stroke-linecap="square"/>
<line x1="545.40" y1="156.00" x2="683.40" y2="156.00" stroke="#111" stroke-width="1.05" stroke-linecap="square"/>
<line x1="545.40" y1="244.50" x2="548.00" y2="244.50" stroke="#111" stroke-width="1"/>
<line x1="545.40" y1="222.40" x2="548.00" y2="222.40" stroke="#111" stroke-width="1"/>
<line x1="545.40" y1="200.30" x2="548.00" y2="200.30" stroke="#111" stroke-width="1"/>
<line x1="545.40" y1="178.20" x2="548.00" y2="178.20" stroke="#111" stroke-width="1"/>
<text x="542.60" y="269.10" font-size="7.1" text-anchor="end" fill="#111">0.0</text>
<text x="542.60" y="247.00" font-size="7.1" text-anchor="end" fill="#111">0.1</text>
<text x="542.60" y="224.90" font-size="7.1" text-anchor="end" fill="#111">0.2</text>
<text x="542.60" y="202.80" font-size="7.1" text-anchor="end" fill="#111">0.3</text>
<text x="542.60" y="180.70" font-size="7.1" text-anchor="end" fill="#111">0.4</text>
<text x="542.60" y="158.60" font-size="7.1" text-anchor="end" fill="#111">0.5</text>
<text class="sm" x="568.40" y="275.80" font-size="6.3" text-anchor="middle" fill="#111">PtFe<tspan font-size="0.64em" baseline-shift="-1.90">7.9</tspan>@MFI</text>
<text class="sm" x="614.10" y="275.80" font-size="6.3" text-anchor="middle" fill="#111">PtFe<tspan font-size="0.64em" baseline-shift="-1.90">4.7</tspan>@MFI</text>
<text class="sm" x="660.40" y="275.80" font-size="6.3" text-anchor="middle" fill="#111">PtFe<tspan font-size="0.64em" baseline-shift="-1.90">2.4</tspan>@MFI</text>
<text x="531.20" y="209.70" font-size="8.45" text-anchor="middle" fill="#111" transform="rotate(-90 531.2 209.7)">Fe Species Content (wt%)</text>
<rect x="602.1" y="159.45" width="11.3" height="5.3" fill="#5088d8" stroke="#333" stroke-width="0.6"/>
<text x="616.00" y="164.70" font-size="7.1" text-anchor="start" fill="#111">FeO<tspan font-size="0.64em" baseline-shift="-1.90">x</tspan>-Tetra</text>
<rect x="602.1" y="170.35" width="11.3" height="5.3" fill="#5cae80" stroke="#333" stroke-width="0.6"/>
<text x="616.00" y="175.60" font-size="7.1" text-anchor="start" fill="#111">FeO<tspan font-size="0.64em" baseline-shift="-1.90">x</tspan>-Hexa</text>
<rect x="602.1" y="181.25" width="11.3" height="5.3" fill="#b888d8" stroke="#333" stroke-width="0.6"/>
<text x="616.00" y="186.50" font-size="7.1" text-anchor="start" fill="#111">Partial Reduced Fe</text>
</svg></body></html>
